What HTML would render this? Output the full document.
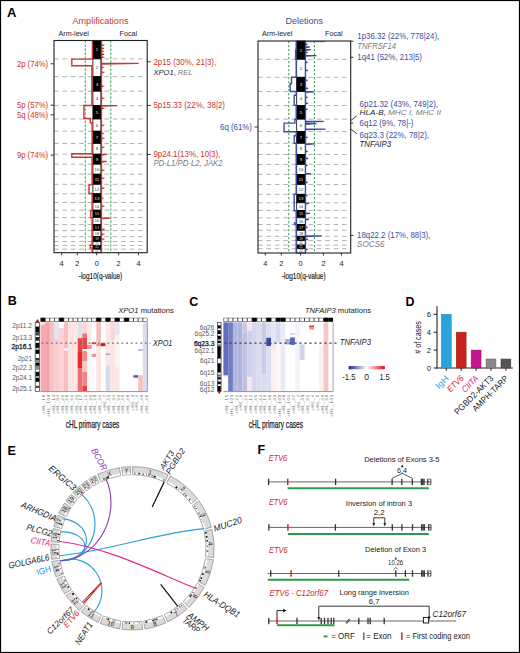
<!DOCTYPE html><html><head><meta charset="utf-8"><style>html,body{margin:0;padding:0;background:#fff;}svg{display:block;}text{font-family:"Liberation Sans", sans-serif;}</style></head><body>
<svg width="520" height="653" viewBox="0 0 520 653">
<rect x="0.00" y="0.00" width="520.00" height="653.00" fill="#fff" stroke="none" stroke-width="1"/>
<text x="7.00" y="17.00" font-size="13" fill="#000" font-weight="bold">A</text>
<text x="100.50" y="24.00" font-size="9.75" fill="#c9372c" text-anchor="middle" textLength="56.00" lengthAdjust="spacingAndGlyphs">Amplifications</text>
<text x="304.30" y="24.00" font-size="9.75" fill="#3c4ea0" text-anchor="middle" textLength="37.40" lengthAdjust="spacingAndGlyphs">Deletions</text>
<text x="58.50" y="35.60" font-size="7.63" fill="#222" textLength="30.30" lengthAdjust="spacingAndGlyphs">Arm-level</text>
<text x="119.60" y="35.60" font-size="7.63" fill="#222" textLength="17.40" lengthAdjust="spacingAndGlyphs">Focal</text>
<text x="262.00" y="35.60" font-size="7.63" fill="#222" textLength="30.30" lengthAdjust="spacingAndGlyphs">Arm-level</text>
<text x="325.00" y="35.60" font-size="7.63" fill="#222" textLength="17.60" lengthAdjust="spacingAndGlyphs">Focal</text>
<line x1="54.00" y1="58.90" x2="147.20" y2="58.90" stroke="#b3b3b3" stroke-width="1" stroke-dasharray="4.6 3.8"/>
<line x1="54.00" y1="76.70" x2="147.20" y2="76.70" stroke="#b3b3b3" stroke-width="1" stroke-dasharray="4.6 3.8"/>
<line x1="54.00" y1="91.20" x2="147.20" y2="91.20" stroke="#b3b3b3" stroke-width="1" stroke-dasharray="4.6 3.8"/>
<line x1="54.00" y1="105.60" x2="147.20" y2="105.60" stroke="#b3b3b3" stroke-width="1" stroke-dasharray="4.6 3.8"/>
<line x1="54.00" y1="119.00" x2="147.20" y2="119.00" stroke="#b3b3b3" stroke-width="1" stroke-dasharray="4.6 3.8"/>
<line x1="54.00" y1="131.20" x2="147.20" y2="131.20" stroke="#b3b3b3" stroke-width="1" stroke-dasharray="4.6 3.8"/>
<line x1="54.00" y1="143.50" x2="147.20" y2="143.50" stroke="#b3b3b3" stroke-width="1" stroke-dasharray="4.6 3.8"/>
<line x1="54.00" y1="154.20" x2="147.20" y2="154.20" stroke="#b3b3b3" stroke-width="1" stroke-dasharray="4.6 3.8"/>
<line x1="54.00" y1="164.20" x2="147.20" y2="164.20" stroke="#b3b3b3" stroke-width="1" stroke-dasharray="4.6 3.8"/>
<line x1="54.00" y1="174.20" x2="147.20" y2="174.20" stroke="#b3b3b3" stroke-width="1" stroke-dasharray="4.6 3.8"/>
<line x1="54.00" y1="184.30" x2="147.20" y2="184.30" stroke="#b3b3b3" stroke-width="1" stroke-dasharray="4.6 3.8"/>
<line x1="54.00" y1="193.80" x2="147.20" y2="193.80" stroke="#b3b3b3" stroke-width="1" stroke-dasharray="4.6 3.8"/>
<line x1="54.00" y1="202.50" x2="147.20" y2="202.50" stroke="#b3b3b3" stroke-width="1" stroke-dasharray="4.6 3.8"/>
<line x1="54.00" y1="210.20" x2="147.20" y2="210.20" stroke="#b3b3b3" stroke-width="1" stroke-dasharray="4.6 3.8"/>
<line x1="54.00" y1="217.50" x2="147.20" y2="217.50" stroke="#b3b3b3" stroke-width="1" stroke-dasharray="4.6 3.8"/>
<line x1="54.00" y1="224.60" x2="147.20" y2="224.60" stroke="#b3b3b3" stroke-width="1" stroke-dasharray="4.6 3.8"/>
<line x1="54.00" y1="230.60" x2="147.20" y2="230.60" stroke="#b3b3b3" stroke-width="1" stroke-dasharray="4.6 3.8"/>
<line x1="54.00" y1="236.70" x2="147.20" y2="236.70" stroke="#b3b3b3" stroke-width="1" stroke-dasharray="4.6 3.8"/>
<line x1="54.00" y1="241.50" x2="147.20" y2="241.50" stroke="#b3b3b3" stroke-width="1" stroke-dasharray="4.6 3.8"/>
<line x1="54.00" y1="245.40" x2="147.20" y2="245.40" stroke="#b3b3b3" stroke-width="1" stroke-dasharray="4.6 3.8"/>
<line x1="54.00" y1="249.20" x2="147.20" y2="249.20" stroke="#b3b3b3" stroke-width="1" stroke-dasharray="4.6 3.8"/>
<line x1="85.30" y1="40.50" x2="85.30" y2="252.70" stroke="#2f9a52" stroke-width="1" stroke-dasharray="2.3 1.7"/>
<line x1="110.80" y1="40.50" x2="110.80" y2="252.70" stroke="#2f9a52" stroke-width="1" stroke-dasharray="2.3 1.7"/>
<rect x="92.90" y="40.50" width="8.00" height="18.40" fill="#000" stroke="#000" stroke-width="0.8"/>
<text x="96.90" y="51.25" font-size="4.3" fill="#e8e8e8" text-anchor="middle">1</text>
<rect x="92.90" y="58.90" width="8.00" height="17.80" fill="#fff" stroke="#000" stroke-width="0.8"/>
<text x="96.90" y="69.35" font-size="4.3" fill="#333" text-anchor="middle">2</text>
<rect x="92.90" y="76.70" width="8.00" height="14.50" fill="#000" stroke="#000" stroke-width="0.8"/>
<text x="96.90" y="85.50" font-size="4.3" fill="#e8e8e8" text-anchor="middle">3</text>
<rect x="92.90" y="91.20" width="8.00" height="14.40" fill="#fff" stroke="#000" stroke-width="0.8"/>
<text x="96.90" y="99.95" font-size="4.3" fill="#333" text-anchor="middle">4</text>
<rect x="92.90" y="105.60" width="8.00" height="13.40" fill="#000" stroke="#000" stroke-width="0.8"/>
<text x="96.90" y="113.85" font-size="4.3" fill="#e8e8e8" text-anchor="middle">5</text>
<rect x="92.90" y="119.00" width="8.00" height="12.20" fill="#fff" stroke="#000" stroke-width="0.8"/>
<text x="96.90" y="126.65" font-size="4.3" fill="#333" text-anchor="middle">6</text>
<rect x="92.90" y="131.20" width="8.00" height="12.30" fill="#000" stroke="#000" stroke-width="0.8"/>
<text x="96.90" y="138.90" font-size="4.3" fill="#e8e8e8" text-anchor="middle">7</text>
<rect x="92.90" y="143.50" width="8.00" height="10.70" fill="#fff" stroke="#000" stroke-width="0.8"/>
<text x="96.90" y="150.40" font-size="4.3" fill="#333" text-anchor="middle">8</text>
<rect x="92.90" y="154.20" width="8.00" height="10.00" fill="#000" stroke="#000" stroke-width="0.8"/>
<text x="96.90" y="160.75" font-size="4.3" fill="#e8e8e8" text-anchor="middle">9</text>
<rect x="92.90" y="164.20" width="8.00" height="10.00" fill="#fff" stroke="#000" stroke-width="0.8"/>
<text x="96.90" y="170.75" font-size="4.3" fill="#333" text-anchor="middle">10</text>
<rect x="92.90" y="174.20" width="8.00" height="10.10" fill="#000" stroke="#000" stroke-width="0.8"/>
<text x="96.90" y="180.80" font-size="4.3" fill="#e8e8e8" text-anchor="middle">11</text>
<rect x="92.90" y="184.30" width="8.00" height="9.50" fill="#fff" stroke="#000" stroke-width="0.8"/>
<text x="96.90" y="190.60" font-size="4.3" fill="#333" text-anchor="middle">12</text>
<rect x="92.90" y="193.80" width="8.00" height="8.70" fill="#000" stroke="#000" stroke-width="0.8"/>
<text x="96.90" y="199.70" font-size="4.3" fill="#e8e8e8" text-anchor="middle">13</text>
<rect x="92.90" y="202.50" width="8.00" height="7.70" fill="#fff" stroke="#000" stroke-width="0.8"/>
<text x="96.90" y="207.72" font-size="3.8" fill="#333" text-anchor="middle">14</text>
<rect x="92.90" y="210.20" width="8.00" height="7.30" fill="#000" stroke="#000" stroke-width="0.8"/>
<text x="96.90" y="215.22" font-size="3.8" fill="#e8e8e8" text-anchor="middle">15</text>
<rect x="92.90" y="217.50" width="8.00" height="7.10" fill="#fff" stroke="#000" stroke-width="0.8"/>
<text x="96.90" y="222.42" font-size="3.8" fill="#333" text-anchor="middle">16</text>
<rect x="92.90" y="224.60" width="8.00" height="6.00" fill="#000" stroke="#000" stroke-width="0.8"/>
<text x="96.90" y="228.97" font-size="3.8" fill="#e8e8e8" text-anchor="middle">17</text>
<rect x="92.90" y="230.60" width="8.00" height="6.10" fill="#fff" stroke="#000" stroke-width="0.8"/>
<text x="96.90" y="235.02" font-size="3.8" fill="#333" text-anchor="middle">18</text>
<rect x="92.90" y="236.70" width="8.00" height="4.80" fill="#000" stroke="#000" stroke-width="0.8"/>
<text x="96.90" y="240.22" font-size="3.1" fill="#e8e8e8" text-anchor="middle">19</text>
<rect x="92.90" y="241.50" width="8.00" height="3.90" fill="#fff" stroke="#000" stroke-width="0.8"/>
<text x="96.90" y="244.57" font-size="3.1" fill="#333" text-anchor="middle">20</text>
<rect x="92.90" y="245.40" width="8.00" height="3.80" fill="#000" stroke="#000" stroke-width="0.8"/>
<text x="96.90" y="248.42" font-size="3.1" fill="#e8e8e8" text-anchor="middle">21</text>
<rect x="92.90" y="249.20" width="8.00" height="3.50" fill="#fff" stroke="#000" stroke-width="0.8"/>
<text x="96.90" y="252.07" font-size="3.1" fill="#333" text-anchor="middle">22</text>
<path d="M92.4,40.5 V59.1 H71.8 V65.7 H91.9 V105.5 H83.9 V118.5 H90.3 V122.8 H92.1 V153.7 H71.8 V157.2 H92.1 V184.9 H89 V193.5 H92.1 V210.8 H90.8 V217.7 H92.1 V245 H90.3 V248 H92.1 V252.7" stroke="#c9372c" stroke-width="1.4" fill="none"/>
<path d="M101.5,40.5 V45 L103,45.3 L101.5,45.9 V48 L104,48.3 L101.5,48.9 V51 L103.5,51.3 L101.5,51.9 V54 L104,54.3 L101.5,54.9 V57 L103,57.3 L101.5,57.9 V63.1 L138.7,63.4 L101.5,64.0 V67 L103.5,67.3 L101.5,67.9 V72 L103,72.3 L101.5,72.9 V86 L102.8,86.3 L101.5,86.9 V98 L103,98.3 L101.5,98.9 V105.3 L117.1,105.6 L101.5,106.2 V108 L103,108.3 L101.5,108.9 V125 L103,125.3 L101.5,125.9 V133 L103.5,133.3 L101.5,133.9 V138 L103,138.3 L101.5,138.9 V147 L103,147.3 L101.5,147.9 V154.1 L106.7,154.4 L101.5,155.0 V161.1 L106.7,161.4 L101.5,162.0 V170 L103,170.3 L101.5,170.9 V178 L103,178.3 L101.5,178.9 V188 L103,188.3 L101.5,188.9 V198 L102.5,198.3 L101.5,198.9 V206 L103,206.3 L101.5,206.9 V217.8 L110.2,218.10000000000002 L101.5,218.70000000000002 V229.2 L104.6,229.5 L101.5,230.1 V234 L103,234.3 L101.5,234.9 V239 L103,239.3 L101.5,239.9 V252.7" stroke="#c9372c" stroke-width="1.3" fill="none"/>
<rect x="54.00" y="40.50" width="93.20" height="212.20" fill="none" stroke="#222" stroke-width="1.1"/>
<line x1="61.60" y1="252.70" x2="61.60" y2="255.30" stroke="#222" stroke-width="0.9"/>
<text x="61.60" y="265.60" font-size="7.4" fill="#222" text-anchor="middle">4</text>
<line x1="77.30" y1="252.70" x2="77.30" y2="255.30" stroke="#222" stroke-width="0.9"/>
<text x="77.30" y="265.60" font-size="7.4" fill="#222" text-anchor="middle">2</text>
<line x1="96.70" y1="252.70" x2="96.70" y2="255.30" stroke="#222" stroke-width="0.9"/>
<text x="96.70" y="265.60" font-size="7.4" fill="#222" text-anchor="middle">0</text>
<line x1="118.60" y1="252.70" x2="118.60" y2="255.30" stroke="#222" stroke-width="0.9"/>
<text x="118.60" y="265.60" font-size="7.4" fill="#222" text-anchor="middle">2</text>
<line x1="138.50" y1="252.70" x2="138.50" y2="255.30" stroke="#222" stroke-width="0.9"/>
<text x="138.50" y="265.60" font-size="7.4" fill="#222" text-anchor="middle">4</text>
<line x1="258.00" y1="59.30" x2="350.70" y2="59.30" stroke="#b3b3b3" stroke-width="1" stroke-dasharray="4.6 3.8"/>
<line x1="258.00" y1="77.30" x2="350.70" y2="77.30" stroke="#b3b3b3" stroke-width="1" stroke-dasharray="4.6 3.8"/>
<line x1="258.00" y1="91.60" x2="350.70" y2="91.60" stroke="#b3b3b3" stroke-width="1" stroke-dasharray="4.6 3.8"/>
<line x1="258.00" y1="105.50" x2="350.70" y2="105.50" stroke="#b3b3b3" stroke-width="1" stroke-dasharray="4.6 3.8"/>
<line x1="258.00" y1="119.20" x2="350.70" y2="119.20" stroke="#b3b3b3" stroke-width="1" stroke-dasharray="4.6 3.8"/>
<line x1="258.00" y1="131.60" x2="350.70" y2="131.60" stroke="#b3b3b3" stroke-width="1" stroke-dasharray="4.6 3.8"/>
<line x1="258.00" y1="143.30" x2="350.70" y2="143.30" stroke="#b3b3b3" stroke-width="1" stroke-dasharray="4.6 3.8"/>
<line x1="258.00" y1="154.50" x2="350.70" y2="154.50" stroke="#b3b3b3" stroke-width="1" stroke-dasharray="4.6 3.8"/>
<line x1="258.00" y1="164.40" x2="350.70" y2="164.40" stroke="#b3b3b3" stroke-width="1" stroke-dasharray="4.6 3.8"/>
<line x1="258.00" y1="174.40" x2="350.70" y2="174.40" stroke="#b3b3b3" stroke-width="1" stroke-dasharray="4.6 3.8"/>
<line x1="258.00" y1="184.50" x2="350.70" y2="184.50" stroke="#b3b3b3" stroke-width="1" stroke-dasharray="4.6 3.8"/>
<line x1="258.00" y1="194.30" x2="350.70" y2="194.30" stroke="#b3b3b3" stroke-width="1" stroke-dasharray="4.6 3.8"/>
<line x1="258.00" y1="202.80" x2="350.70" y2="202.80" stroke="#b3b3b3" stroke-width="1" stroke-dasharray="4.6 3.8"/>
<line x1="258.00" y1="210.40" x2="350.70" y2="210.40" stroke="#b3b3b3" stroke-width="1" stroke-dasharray="4.6 3.8"/>
<line x1="258.00" y1="217.80" x2="350.70" y2="217.80" stroke="#b3b3b3" stroke-width="1" stroke-dasharray="4.6 3.8"/>
<line x1="258.00" y1="224.60" x2="350.70" y2="224.60" stroke="#b3b3b3" stroke-width="1" stroke-dasharray="4.6 3.8"/>
<line x1="258.00" y1="230.30" x2="350.70" y2="230.30" stroke="#b3b3b3" stroke-width="1" stroke-dasharray="4.6 3.8"/>
<line x1="258.00" y1="236.30" x2="350.70" y2="236.30" stroke="#b3b3b3" stroke-width="1" stroke-dasharray="4.6 3.8"/>
<line x1="258.00" y1="240.60" x2="350.70" y2="240.60" stroke="#b3b3b3" stroke-width="1" stroke-dasharray="4.6 3.8"/>
<line x1="258.00" y1="245.10" x2="350.70" y2="245.10" stroke="#b3b3b3" stroke-width="1" stroke-dasharray="4.6 3.8"/>
<line x1="258.00" y1="248.70" x2="350.70" y2="248.70" stroke="#b3b3b3" stroke-width="1" stroke-dasharray="4.6 3.8"/>
<line x1="288.80" y1="41.00" x2="288.80" y2="253.00" stroke="#2f9a52" stroke-width="1" stroke-dasharray="2.3 1.7"/>
<line x1="314.40" y1="41.00" x2="314.40" y2="253.00" stroke="#2f9a52" stroke-width="1" stroke-dasharray="2.3 1.7"/>
<rect x="296.70" y="41.00" width="8.60" height="18.30" fill="#000" stroke="#000" stroke-width="0.8"/>
<text x="301.00" y="51.70" font-size="4.3" fill="#e8e8e8" text-anchor="middle">1</text>
<rect x="296.70" y="59.30" width="8.60" height="18.00" fill="#fff" stroke="#000" stroke-width="0.8"/>
<text x="301.00" y="69.85" font-size="4.3" fill="#333" text-anchor="middle">2</text>
<rect x="296.70" y="77.30" width="8.60" height="14.30" fill="#000" stroke="#000" stroke-width="0.8"/>
<text x="301.00" y="86.00" font-size="4.3" fill="#e8e8e8" text-anchor="middle">3</text>
<rect x="296.70" y="91.60" width="8.60" height="13.90" fill="#fff" stroke="#000" stroke-width="0.8"/>
<text x="301.00" y="100.10" font-size="4.3" fill="#333" text-anchor="middle">4</text>
<rect x="296.70" y="105.50" width="8.60" height="13.70" fill="#000" stroke="#000" stroke-width="0.8"/>
<text x="301.00" y="113.90" font-size="4.3" fill="#e8e8e8" text-anchor="middle">5</text>
<rect x="296.70" y="119.20" width="8.60" height="12.40" fill="#fff" stroke="#000" stroke-width="0.8"/>
<text x="301.00" y="126.95" font-size="4.3" fill="#333" text-anchor="middle">6</text>
<rect x="296.70" y="131.60" width="8.60" height="11.70" fill="#000" stroke="#000" stroke-width="0.8"/>
<text x="301.00" y="139.00" font-size="4.3" fill="#e8e8e8" text-anchor="middle">7</text>
<rect x="296.70" y="143.30" width="8.60" height="11.20" fill="#fff" stroke="#000" stroke-width="0.8"/>
<text x="301.00" y="150.45" font-size="4.3" fill="#333" text-anchor="middle">8</text>
<rect x="296.70" y="154.50" width="8.60" height="9.90" fill="#000" stroke="#000" stroke-width="0.8"/>
<text x="301.00" y="161.00" font-size="4.3" fill="#e8e8e8" text-anchor="middle">9</text>
<rect x="296.70" y="164.40" width="8.60" height="10.00" fill="#fff" stroke="#000" stroke-width="0.8"/>
<text x="301.00" y="170.95" font-size="4.3" fill="#333" text-anchor="middle">10</text>
<rect x="296.70" y="174.40" width="8.60" height="10.10" fill="#000" stroke="#000" stroke-width="0.8"/>
<text x="301.00" y="181.00" font-size="4.3" fill="#e8e8e8" text-anchor="middle">11</text>
<rect x="296.70" y="184.50" width="8.60" height="9.80" fill="#fff" stroke="#000" stroke-width="0.8"/>
<text x="301.00" y="190.95" font-size="4.3" fill="#333" text-anchor="middle">12</text>
<rect x="296.70" y="194.30" width="8.60" height="8.50" fill="#000" stroke="#000" stroke-width="0.8"/>
<text x="301.00" y="200.10" font-size="4.3" fill="#e8e8e8" text-anchor="middle">13</text>
<rect x="296.70" y="202.80" width="8.60" height="7.60" fill="#fff" stroke="#000" stroke-width="0.8"/>
<text x="301.00" y="207.97" font-size="3.8" fill="#333" text-anchor="middle">14</text>
<rect x="296.70" y="210.40" width="8.60" height="7.40" fill="#000" stroke="#000" stroke-width="0.8"/>
<text x="301.00" y="215.47" font-size="3.8" fill="#e8e8e8" text-anchor="middle">15</text>
<rect x="296.70" y="217.80" width="8.60" height="6.80" fill="#fff" stroke="#000" stroke-width="0.8"/>
<text x="301.00" y="222.57" font-size="3.8" fill="#333" text-anchor="middle">16</text>
<rect x="296.70" y="224.60" width="8.60" height="5.70" fill="#000" stroke="#000" stroke-width="0.8"/>
<text x="301.00" y="228.82" font-size="3.8" fill="#e8e8e8" text-anchor="middle">17</text>
<rect x="296.70" y="230.30" width="8.60" height="6.00" fill="#fff" stroke="#000" stroke-width="0.8"/>
<text x="301.00" y="234.67" font-size="3.8" fill="#333" text-anchor="middle">18</text>
<rect x="296.70" y="236.30" width="8.60" height="4.30" fill="#000" stroke="#000" stroke-width="0.8"/>
<text x="301.00" y="239.57" font-size="3.1" fill="#e8e8e8" text-anchor="middle">19</text>
<rect x="296.70" y="240.60" width="8.60" height="4.50" fill="#fff" stroke="#000" stroke-width="0.8"/>
<text x="301.00" y="243.97" font-size="3.1" fill="#333" text-anchor="middle">20</text>
<rect x="296.70" y="245.10" width="8.60" height="3.60" fill="#000" stroke="#000" stroke-width="0.8"/>
<text x="301.00" y="248.02" font-size="3.1" fill="#e8e8e8" text-anchor="middle">21</text>
<rect x="296.70" y="248.70" width="8.60" height="4.30" fill="#fff" stroke="#000" stroke-width="0.8"/>
<text x="301.00" y="251.97" font-size="3.1" fill="#333" text-anchor="middle">22</text>
<path d="M296.2,41 V50 H295.6 V59 H296.2 V77.2 H291.5 V83.8 H290.2 V91.5 H296.2 V95.2 H294.2 V105.3 H296.2 V119.2 H294.9 V123.1 H284.1 V131.8 H296.2 V135.7 H294.2 V143.3 H296.2 V194.3 H294.2 V210.7 H296.2 V223 H294.5 V224.6 H296.2 V253" stroke="#3c4ea0" stroke-width="1.4" fill="none"/>
<path d="M305.5,41.5 V44 L307.5,44.3 L305.5,44.9 V46.7 L309.7,47.0 L305.5,47.6 V49.4 L311,49.699999999999996 L305.5,50.3 V52 L307.5,52.3 L305.5,52.9 V55.3 L316.4,55.599999999999994 L305.5,56.199999999999996 V62 L307.5,62.3 L305.5,62.9 V70 L308,70.3 L305.5,70.9 V80 L307.5,80.3 L305.5,80.9 V88 L308,88.3 L305.5,88.9 V91.5 L314.4,91.8 L305.5,92.4 V97 L307.5,97.3 L305.5,97.9 V103 L308,103.3 L305.5,103.9 V109 L307.5,109.3 L305.5,109.9 V121.1 L323.8,121.39999999999999 L305.5,122.0 V123.4 L316.4,123.7 L305.5,124.30000000000001 V128.8 L325.5,129.10000000000002 L305.5,129.70000000000002 V137 L307.5,137.3 L305.5,137.9 V143.6 L315,143.9 L305.5,144.5 V151 L307.5,151.3 L305.5,151.9 V158 L308,158.3 L305.5,158.9 V165 L307.5,165.3 L305.5,165.9 V173.4 L311,173.70000000000002 L305.5,174.3 V182 L307.5,182.3 L305.5,182.9 V195 L307.5,195.3 L305.5,195.9 V203 L309,203.3 L305.5,203.9 V213 L310,213.3 L305.5,213.9 V219 L309,219.3 L305.5,219.9 V227 L307.5,227.3 L305.5,227.9 V235.6 L321.8,235.9 L305.5,236.5 V239 L308,239.3 L305.5,239.9 V249 L307.5,249.3 L305.5,249.9 V253" stroke="#3c4ea0" stroke-width="1.3" fill="none"/>
<rect x="258.00" y="41.00" width="92.70" height="212.00" fill="none" stroke="#222" stroke-width="1.1"/>
<line x1="265.30" y1="253.00" x2="265.30" y2="255.60" stroke="#222" stroke-width="0.9"/>
<text x="265.30" y="265.60" font-size="7.4" fill="#222" text-anchor="middle">4</text>
<line x1="281.30" y1="253.00" x2="281.30" y2="255.60" stroke="#222" stroke-width="0.9"/>
<text x="281.30" y="265.60" font-size="7.4" fill="#222" text-anchor="middle">2</text>
<line x1="300.50" y1="253.00" x2="300.50" y2="255.60" stroke="#222" stroke-width="0.9"/>
<text x="300.50" y="265.60" font-size="7.4" fill="#222" text-anchor="middle">0</text>
<line x1="323.50" y1="253.00" x2="323.50" y2="255.60" stroke="#222" stroke-width="0.9"/>
<text x="323.50" y="265.60" font-size="7.4" fill="#222" text-anchor="middle">2</text>
<line x1="341.50" y1="253.00" x2="341.50" y2="255.60" stroke="#222" stroke-width="0.9"/>
<text x="341.50" y="265.60" font-size="7.4" fill="#222" text-anchor="middle">4</text>
<line x1="305.50" y1="41.60" x2="325.00" y2="41.60" stroke="#3c4ea0" stroke-width="1.1"/>
<text x="100.50" y="279.00" font-size="9.96" fill="#222" text-anchor="middle" textLength="43.50" lengthAdjust="spacingAndGlyphs" stroke="#222" stroke-width="0.2">-log10(q-value)</text>
<text x="303.80" y="278.80" font-size="9.96" fill="#222" text-anchor="middle" textLength="43.70" lengthAdjust="spacingAndGlyphs" stroke="#222" stroke-width="0.2">-log10(q-value)</text>
<line x1="50.50" y1="63.80" x2="54.00" y2="63.80" stroke="#222" stroke-width="0.9"/>
<text x="48.20" y="66.60" font-size="8.37" fill="#c9372c" text-anchor="end" textLength="31.30" lengthAdjust="spacingAndGlyphs">2p (74%)</text>
<line x1="50.50" y1="105.20" x2="54.00" y2="105.20" stroke="#222" stroke-width="0.9"/>
<text x="48.20" y="108.00" font-size="8.37" fill="#c9372c" text-anchor="end" textLength="31.30" lengthAdjust="spacingAndGlyphs">5p (57%)</text>
<line x1="50.50" y1="114.80" x2="54.00" y2="114.80" stroke="#222" stroke-width="0.9"/>
<text x="48.20" y="117.60" font-size="8.37" fill="#c9372c" text-anchor="end" textLength="31.30" lengthAdjust="spacingAndGlyphs">5q (48%)</text>
<line x1="50.50" y1="155.10" x2="54.00" y2="155.10" stroke="#222" stroke-width="0.9"/>
<text x="48.20" y="157.90" font-size="8.37" fill="#c9372c" text-anchor="end" textLength="31.30" lengthAdjust="spacingAndGlyphs">9p (74%)</text>
<line x1="147.20" y1="61.80" x2="150.80" y2="61.80" stroke="#222" stroke-width="0.9"/>
<line x1="147.20" y1="105.40" x2="150.80" y2="105.40" stroke="#222" stroke-width="0.9"/>
<line x1="147.20" y1="154.40" x2="150.80" y2="154.40" stroke="#222" stroke-width="0.9"/>
<text x="153.40" y="65.00" font-size="8.37" fill="#c9372c" textLength="62.80" lengthAdjust="spacingAndGlyphs">2p15 (30%, 21|3),</text>
<text x="153.4" y="75.0" font-size="7.9" font-style="italic" textLength="39.2" lengthAdjust="spacingAndGlyphs"><tspan fill="#222">XPO1</tspan><tspan fill="#222" font-style="normal">, </tspan><tspan fill="#7a7a7a">REL</tspan></text>
<text x="153.40" y="108.20" font-size="8.37" fill="#c9372c" textLength="71.60" lengthAdjust="spacingAndGlyphs">5p15.33 (22%, 38|2)</text>
<text x="153.40" y="157.30" font-size="8.37" fill="#c9372c" textLength="66.90" lengthAdjust="spacingAndGlyphs">9p24.1(13%, 10|3),</text>
<text x="153.40" y="166.30" font-size="8.37" fill="#7a7a7a" font-style="italic" textLength="69.20" lengthAdjust="spacingAndGlyphs">PD-L1/PD-L2, JAK2</text>
<line x1="254.50" y1="127.00" x2="258.00" y2="127.00" stroke="#222" stroke-width="0.9"/>
<text x="252.00" y="129.80" font-size="8.37" fill="#3c4ea0" text-anchor="end" textLength="32.00" lengthAdjust="spacingAndGlyphs">6q (61%)</text>
<line x1="350.70" y1="41.20" x2="353.50" y2="41.20" stroke="#222" stroke-width="0.9"/>
<line x1="350.70" y1="57.30" x2="353.50" y2="57.30" stroke="#222" stroke-width="0.9"/>
<text x="357.30" y="38.90" font-size="8.37" fill="#3c4ea0" textLength="82.00" lengthAdjust="spacingAndGlyphs">1p36.32 (22%, 778|24),</text>
<text x="357.30" y="48.60" font-size="8.37" fill="#7a7a7a" font-style="italic" textLength="38.70" lengthAdjust="spacingAndGlyphs">TNFRSF14</text>
<text x="357.30" y="59.70" font-size="8.37" fill="#3c4ea0" textLength="64.70" lengthAdjust="spacingAndGlyphs">1q41 (52%, 213|5)</text>
<text x="359.60" y="106.60" font-size="8.37" fill="#3c4ea0" textLength="78.40" lengthAdjust="spacingAndGlyphs">6p21.32 (43%, 749|2),</text>
<text x="359.6" y="115.1" font-size="7.9" font-style="italic" textLength="81.4" lengthAdjust="spacingAndGlyphs"><tspan fill="#222">HLA-B</tspan><tspan fill="#222" font-style="normal">, </tspan><tspan fill="#7a7a7a">MHC I, MHC II</tspan></text>
<text x="359.60" y="125.50" font-size="8.37" fill="#3c4ea0" textLength="53.80" lengthAdjust="spacingAndGlyphs">6q12 (9%, 78|-)</text>
<text x="359.60" y="138.20" font-size="8.37" fill="#3c4ea0" textLength="69.40" lengthAdjust="spacingAndGlyphs">6q23.3 (22%, 78|2),</text>
<text x="359.60" y="147.00" font-size="8.37" fill="#222" font-style="italic" textLength="31.40" lengthAdjust="spacingAndGlyphs">TNFAIP3</text>
<path d="M350.9,120.4 Q353.5,118.8 356.8,115.8" stroke="#222" stroke-width="0.9" fill="none"/>
<line x1="350.70" y1="123.00" x2="353.20" y2="123.00" stroke="#222" stroke-width="0.9"/>
<path d="M350.9,129.4 Q353.5,130.5 356.8,133.9" stroke="#222" stroke-width="0.9" fill="none"/>
<line x1="350.70" y1="235.50" x2="353.50" y2="235.50" stroke="#222" stroke-width="0.9"/>
<text x="357.00" y="237.60" font-size="8.37" fill="#3c4ea0" textLength="73.40" lengthAdjust="spacingAndGlyphs">18q22.2 (17%, 88|3),</text>
<text x="357.00" y="246.80" font-size="8.37" fill="#7a7a7a" font-style="italic" textLength="27.60" lengthAdjust="spacingAndGlyphs">SOCS6</text>
<text x="7.80" y="305.40" font-size="12.5" fill="#000" font-weight="bold">B</text>
<rect x="40.50" y="322.20" width="106.95" height="69.00" fill="#fff" stroke="none" stroke-width="1"/>
<rect x="40.48" y="324.50" width="4.69" height="66.70" fill="#f3abaf" stroke="none" stroke-width="1"/>
<rect x="40.48" y="322.20" width="4.69" height="2.30" fill="#fbe0e1" stroke="none" stroke-width="1"/>
<rect x="45.13" y="322.20" width="4.69" height="69.00" fill="#f1a3a8" stroke="none" stroke-width="1"/>
<rect x="49.78" y="322.20" width="4.69" height="69.00" fill="#f6c3c5" stroke="none" stroke-width="1"/>
<rect x="54.43" y="322.20" width="4.69" height="16.80" fill="#e3e4f3" stroke="none" stroke-width="1"/>
<rect x="54.43" y="339.00" width="4.69" height="52.20" fill="#f8cbcd" stroke="none" stroke-width="1"/>
<rect x="59.08" y="328.00" width="4.69" height="63.20" fill="#f9d3d5" stroke="none" stroke-width="1"/>
<rect x="63.73" y="322.20" width="4.69" height="69.00" fill="#f6c0c2" stroke="none" stroke-width="1"/>
<rect x="63.73" y="348.50" width="4.69" height="2.00" fill="#fff" stroke="none" stroke-width="1"/>
<rect x="68.38" y="322.20" width="4.69" height="69.00" fill="#fde2e2" stroke="none" stroke-width="1"/>
<rect x="73.03" y="322.20" width="4.69" height="69.00" fill="#fde7e7" stroke="none" stroke-width="1"/>
<rect x="77.68" y="322.20" width="4.69" height="16.00" fill="#e0e2f2" stroke="none" stroke-width="1"/>
<rect x="77.68" y="338.20" width="4.69" height="13.80" fill="#e94545" stroke="none" stroke-width="1"/>
<rect x="77.68" y="352.00" width="4.69" height="16.00" fill="#e92a2c" stroke="none" stroke-width="1"/>
<rect x="77.68" y="368.00" width="4.69" height="23.20" fill="#ed6e70" stroke="none" stroke-width="1"/>
<rect x="82.33" y="322.20" width="4.69" height="11.20" fill="#fbd6d6" stroke="none" stroke-width="1"/>
<rect x="82.33" y="333.40" width="4.69" height="4.60" fill="#ee7373" stroke="none" stroke-width="1"/>
<rect x="82.33" y="338.00" width="4.69" height="11.00" fill="#e84848" stroke="none" stroke-width="1"/>
<rect x="82.33" y="351.00" width="4.69" height="10.00" fill="#f08a8b" stroke="none" stroke-width="1"/>
<rect x="82.33" y="361.00" width="4.69" height="11.00" fill="#f8c6c7" stroke="none" stroke-width="1"/>
<rect x="82.33" y="372.00" width="4.69" height="14.00" fill="#ef8486" stroke="none" stroke-width="1"/>
<rect x="82.33" y="386.00" width="4.69" height="5.20" fill="#e64044" stroke="none" stroke-width="1"/>
<rect x="86.98" y="322.20" width="4.69" height="22.80" fill="#fdeaea" stroke="none" stroke-width="1"/>
<rect x="86.98" y="345.00" width="4.69" height="4.00" fill="#f29597" stroke="none" stroke-width="1"/>
<rect x="86.98" y="349.00" width="4.69" height="42.20" fill="#fef6f6" stroke="none" stroke-width="1"/>
<rect x="91.63" y="342.30" width="4.69" height="1.90" fill="#e83232" stroke="none" stroke-width="1"/>
<rect x="91.63" y="353.80" width="4.69" height="3.20" fill="#f29597" stroke="none" stroke-width="1"/>
<rect x="96.28" y="322.20" width="4.69" height="21.80" fill="#f7bdbd" stroke="none" stroke-width="1"/>
<rect x="96.28" y="344.00" width="4.69" height="2.50" fill="#f08a8a" stroke="none" stroke-width="1"/>
<rect x="96.28" y="346.50" width="4.69" height="44.70" fill="#fce4e4" stroke="none" stroke-width="1"/>
<rect x="100.93" y="343.00" width="4.69" height="3.20" fill="#e81414" stroke="none" stroke-width="1"/>
<rect x="105.58" y="322.20" width="4.69" height="43.20" fill="#fde6e6" stroke="none" stroke-width="1"/>
<rect x="105.58" y="353.60" width="4.69" height="1.20" fill="#8a96d4" stroke="none" stroke-width="1"/>
<rect x="105.58" y="365.40" width="4.69" height="25.80" fill="#d9d9ee" stroke="none" stroke-width="1"/>
<rect x="110.23" y="322.20" width="4.69" height="17.80" fill="#fbd8d8" stroke="none" stroke-width="1"/>
<rect x="110.23" y="340.00" width="4.69" height="51.20" fill="#fde3e3" stroke="none" stroke-width="1"/>
<rect x="114.88" y="322.20" width="4.69" height="12.80" fill="#e5e5f4" stroke="none" stroke-width="1"/>
<rect x="114.88" y="335.00" width="4.69" height="32.00" fill="#fef1f1" stroke="none" stroke-width="1"/>
<rect x="114.88" y="367.00" width="4.69" height="24.20" fill="#fde6e6" stroke="none" stroke-width="1"/>
<rect x="133.48" y="375.20" width="4.69" height="2.50" fill="#4a57ae" stroke="none" stroke-width="1"/>
<rect x="138.13" y="349.50" width="4.69" height="1.20" fill="#8a96d4" stroke="none" stroke-width="1"/>
<rect x="138.13" y="375.20" width="4.69" height="16.00" fill="#f6c2c2" stroke="none" stroke-width="1"/>
<rect x="142.78" y="322.20" width="4.69" height="69.00" fill="#dcdcf0" stroke="none" stroke-width="1"/>
<rect x="40.50" y="317.80" width="106.95" height="3.80" fill="#333" stroke="none" stroke-width="1"/>
<rect x="40.80" y="317.80" width="4.05" height="3.80" fill="#000" stroke="none" stroke-width="1"/>
<rect x="45.60" y="318.25" width="3.75" height="2.90" fill="#fff" stroke="none" stroke-width="1"/>
<rect x="50.25" y="318.25" width="3.75" height="2.90" fill="#fff" stroke="none" stroke-width="1"/>
<rect x="54.90" y="318.25" width="3.75" height="2.90" fill="#fff" stroke="none" stroke-width="1"/>
<rect x="59.40" y="317.80" width="4.05" height="3.80" fill="#000" stroke="none" stroke-width="1"/>
<rect x="64.20" y="318.25" width="3.75" height="2.90" fill="#fff" stroke="none" stroke-width="1"/>
<rect x="68.85" y="318.25" width="3.75" height="2.90" fill="#fff" stroke="none" stroke-width="1"/>
<rect x="73.50" y="318.25" width="3.75" height="2.90" fill="#fff" stroke="none" stroke-width="1"/>
<rect x="78.15" y="318.25" width="3.75" height="2.90" fill="#fff" stroke="none" stroke-width="1"/>
<rect x="82.80" y="318.25" width="3.75" height="2.90" fill="#fff" stroke="none" stroke-width="1"/>
<rect x="87.45" y="318.25" width="3.75" height="2.90" fill="#fff" stroke="none" stroke-width="1"/>
<rect x="92.10" y="318.25" width="3.75" height="2.90" fill="#fff" stroke="none" stroke-width="1"/>
<rect x="96.60" y="317.80" width="4.05" height="3.80" fill="#000" stroke="none" stroke-width="1"/>
<rect x="101.40" y="318.25" width="3.75" height="2.90" fill="#fff" stroke="none" stroke-width="1"/>
<rect x="105.90" y="317.80" width="4.05" height="3.80" fill="#000" stroke="none" stroke-width="1"/>
<rect x="110.70" y="318.25" width="3.75" height="2.90" fill="#fff" stroke="none" stroke-width="1"/>
<rect x="115.20" y="317.80" width="4.05" height="3.80" fill="#000" stroke="none" stroke-width="1"/>
<rect x="120.00" y="318.25" width="3.75" height="2.90" fill="#fff" stroke="none" stroke-width="1"/>
<rect x="124.50" y="317.80" width="4.05" height="3.80" fill="#000" stroke="none" stroke-width="1"/>
<rect x="129.30" y="318.25" width="3.75" height="2.90" fill="#fff" stroke="none" stroke-width="1"/>
<rect x="133.95" y="318.25" width="3.75" height="2.90" fill="#fff" stroke="none" stroke-width="1"/>
<rect x="138.60" y="318.25" width="3.75" height="2.90" fill="#fff" stroke="none" stroke-width="1"/>
<rect x="143.25" y="318.25" width="3.75" height="2.90" fill="#fff" stroke="none" stroke-width="1"/>
<line x1="40.50" y1="391.60" x2="147.45" y2="391.60" stroke="#888" stroke-width="0.9"/>
<line x1="147.45" y1="322.20" x2="147.45" y2="391.60" stroke="#999" stroke-width="0.9"/>
<line x1="41.50" y1="343.10" x2="150.50" y2="343.10" stroke="#777" stroke-width="1.2" stroke-dasharray="1.9 2.8"/>
<text x="118.2" y="312.7" font-size="7.9" fill="#222" textLength="55.6" lengthAdjust="spacingAndGlyphs"><tspan font-style="italic">XPO1</tspan> mutations</text>
<text x="153.00" y="345.90" font-size="8.37" fill="#222" font-style="italic" textLength="19.30" lengthAdjust="spacingAndGlyphs">XPO1</text>
<path d="M35.3,322.6 L37.45,318.9 L39.6,322.6 Z" fill="#c00000"/>
<rect x="35.20" y="322.60" width="4.40" height="68.70" fill="#fff" stroke="#333" stroke-width="0.7"/>
<rect x="35.55" y="326.60" width="3.70" height="5.50" fill="#000" stroke="none" stroke-width="1"/>
<rect x="35.55" y="332.10" width="3.70" height="3.40" fill="#444" stroke="none" stroke-width="1"/>
<rect x="35.55" y="337.00" width="3.70" height="3.70" fill="#222" stroke="none" stroke-width="1"/>
<rect x="35.55" y="342.90" width="3.70" height="4.90" fill="#000" stroke="none" stroke-width="1"/>
<rect x="35.55" y="348.00" width="3.70" height="1.50" fill="#aaa" stroke="none" stroke-width="1"/>
<rect x="35.55" y="349.80" width="3.70" height="4.00" fill="#000" stroke="none" stroke-width="1"/>
<rect x="35.55" y="358.00" width="3.70" height="2.40" fill="#333" stroke="none" stroke-width="1"/>
<rect x="35.55" y="360.40" width="3.70" height="2.60" fill="#888" stroke="none" stroke-width="1"/>
<rect x="35.55" y="363.00" width="3.70" height="2.80" fill="#000" stroke="none" stroke-width="1"/>
<rect x="35.55" y="365.80" width="3.70" height="3.90" fill="#888" stroke="none" stroke-width="1"/>
<rect x="35.55" y="371.80" width="3.70" height="4.60" fill="#111" stroke="none" stroke-width="1"/>
<rect x="35.55" y="377.70" width="3.70" height="4.10" fill="#000" stroke="none" stroke-width="1"/>
<rect x="35.55" y="385.80" width="3.70" height="2.20" fill="#444" stroke="none" stroke-width="1"/>
<text x="32.00" y="327.90" font-size="7.42" fill="#5a5a5a" text-anchor="end" textLength="19.80" lengthAdjust="spacingAndGlyphs">2p11.2</text>
<text x="32.00" y="340.10" font-size="7.42" fill="#5a5a5a" text-anchor="end" textLength="19.80" lengthAdjust="spacingAndGlyphs">2p13.3</text>
<text x="32.00" y="349.30" font-size="7.42" fill="#222" text-anchor="end" textLength="20.50" lengthAdjust="spacingAndGlyphs" stroke="#222" stroke-width="0.3">2p16.1</text>
<text x="32.00" y="361.10" font-size="7.42" fill="#5a5a5a" text-anchor="end" textLength="14.30" lengthAdjust="spacingAndGlyphs">2p21</text>
<text x="32.00" y="369.80" font-size="7.42" fill="#5a5a5a" text-anchor="end" textLength="19.80" lengthAdjust="spacingAndGlyphs">2p22.3</text>
<text x="32.00" y="379.90" font-size="7.42" fill="#5a5a5a" text-anchor="end" textLength="19.80" lengthAdjust="spacingAndGlyphs">2p24.1</text>
<text x="32.00" y="391.00" font-size="7.42" fill="#5a5a5a" text-anchor="end" textLength="19.80" lengthAdjust="spacingAndGlyphs">2p25.1</text>
<text x="45.23" y="394.9" font-size="4.3" fill="#666" text-anchor="end" textLength="18.60" lengthAdjust="spacing" transform="rotate(-90 45.23 394.9)">cHL_18</text>
<text x="49.88" y="394.9" font-size="4.3" fill="#666" text-anchor="end" textLength="21.70" lengthAdjust="spacing" transform="rotate(-90 49.88 394.9)">cHL_100</text>
<text x="54.52" y="394.9" font-size="4.3" fill="#666" text-anchor="end" textLength="18.60" lengthAdjust="spacing" transform="rotate(-90 54.52 394.9)">cHL_13</text>
<text x="59.18" y="394.9" font-size="4.3" fill="#666" text-anchor="end" textLength="18.60" lengthAdjust="spacing" transform="rotate(-90 59.18 394.9)">cHL_04</text>
<text x="63.82" y="394.9" font-size="4.3" fill="#666" text-anchor="end" textLength="18.60" lengthAdjust="spacing" transform="rotate(-90 63.82 394.9)">cHL_46</text>
<text x="68.48" y="394.9" font-size="4.3" fill="#666" text-anchor="end" textLength="18.60" lengthAdjust="spacing" transform="rotate(-90 68.48 394.9)">cHL_58</text>
<text x="73.12" y="394.9" font-size="4.3" fill="#666" text-anchor="end" textLength="18.60" lengthAdjust="spacing" transform="rotate(-90 73.12 394.9)">cHL_61</text>
<text x="77.78" y="394.9" font-size="4.3" fill="#666" text-anchor="end" textLength="18.60" lengthAdjust="spacing" transform="rotate(-90 77.78 394.9)">cHL_31</text>
<text x="82.43" y="394.9" font-size="4.3" fill="#666" text-anchor="end" textLength="18.60" lengthAdjust="spacing" transform="rotate(-90 82.43 394.9)">cHL_17</text>
<text x="87.08" y="394.9" font-size="4.3" fill="#666" text-anchor="end" textLength="18.60" lengthAdjust="spacing" transform="rotate(-90 87.08 394.9)">cHL_21</text>
<text x="91.73" y="394.9" font-size="4.3" fill="#666" text-anchor="end" textLength="18.60" lengthAdjust="spacing" transform="rotate(-90 91.73 394.9)">cHL_36</text>
<text x="96.38" y="394.9" font-size="4.3" fill="#666" text-anchor="end" textLength="18.60" lengthAdjust="spacing" transform="rotate(-90 96.38 394.9)">cHL_28</text>
<text x="101.03" y="394.9" font-size="4.3" fill="#666" text-anchor="end" textLength="18.60" lengthAdjust="spacing" transform="rotate(-90 101.03 394.9)">cHL_44</text>
<text x="105.68" y="394.9" font-size="4.3" fill="#666" text-anchor="end" textLength="15.50" lengthAdjust="spacing" transform="rotate(-90 105.68 394.9)">cHL_7</text>
<text x="110.33" y="394.9" font-size="4.3" fill="#666" text-anchor="end" textLength="18.60" lengthAdjust="spacing" transform="rotate(-90 110.33 394.9)">cHL_43</text>
<text x="114.98" y="394.9" font-size="4.3" fill="#666" text-anchor="end" textLength="18.60" lengthAdjust="spacing" transform="rotate(-90 114.98 394.9)">cHL_34</text>
<text x="119.63" y="394.9" font-size="4.3" fill="#666" text-anchor="end" textLength="18.60" lengthAdjust="spacing" transform="rotate(-90 119.63 394.9)">cHL_50</text>
<text x="124.28" y="394.9" font-size="4.3" fill="#666" text-anchor="end" textLength="18.60" lengthAdjust="spacing" transform="rotate(-90 124.28 394.9)">cHL_45</text>
<text x="128.93" y="394.9" font-size="4.3" fill="#666" text-anchor="end" textLength="18.60" lengthAdjust="spacing" transform="rotate(-90 128.93 394.9)">cHL_48</text>
<text x="133.58" y="394.9" font-size="4.3" fill="#666" text-anchor="end" textLength="15.50" lengthAdjust="spacing" transform="rotate(-90 133.58 394.9)">cHL_3</text>
<text x="138.22" y="394.9" font-size="4.3" fill="#666" text-anchor="end" textLength="15.50" lengthAdjust="spacing" transform="rotate(-90 138.22 394.9)">cHL_4</text>
<text x="142.88" y="394.9" font-size="4.3" fill="#666" text-anchor="end" textLength="18.60" lengthAdjust="spacing" transform="rotate(-90 142.88 394.9)">cHL_40</text>
<text x="147.53" y="394.9" font-size="4.3" fill="#666" text-anchor="end" textLength="18.60" lengthAdjust="spacing" transform="rotate(-90 147.53 394.9)">cHL_48</text>
<text x="92.50" y="427.80" font-size="10.49" fill="#222" text-anchor="middle" textLength="53.60" lengthAdjust="spacingAndGlyphs" stroke="#222" stroke-width="0.25">cHL primary cases</text>
<text x="189.20" y="305.70" font-size="12.5" fill="#000" font-weight="bold">C</text>
<rect x="223.40" y="322.40" width="109.71" height="68.80" fill="#fff" stroke="none" stroke-width="1"/>
<rect x="223.38" y="322.40" width="4.81" height="53.10" fill="#606dbd" stroke="none" stroke-width="1"/>
<rect x="223.38" y="375.50" width="4.81" height="0.80" fill="#f6caca" stroke="none" stroke-width="1"/>
<rect x="228.15" y="322.40" width="4.81" height="68.80" fill="#737ec5" stroke="none" stroke-width="1"/>
<rect x="232.92" y="322.40" width="4.81" height="68.80" fill="#b3b7df" stroke="none" stroke-width="1"/>
<rect x="237.69" y="322.40" width="4.81" height="68.80" fill="#b1b5de" stroke="none" stroke-width="1"/>
<rect x="242.46" y="322.40" width="4.81" height="10.00" fill="#c6c9e7" stroke="none" stroke-width="1"/>
<rect x="242.46" y="332.40" width="4.81" height="58.80" fill="#bfc2e4" stroke="none" stroke-width="1"/>
<rect x="247.23" y="322.40" width="4.81" height="8.60" fill="#fde4e4" stroke="none" stroke-width="1"/>
<rect x="247.23" y="331.00" width="4.81" height="46.00" fill="#d0d2eb" stroke="none" stroke-width="1"/>
<rect x="247.23" y="377.00" width="4.81" height="14.20" fill="#fde6e6" stroke="none" stroke-width="1"/>
<rect x="252.00" y="322.40" width="4.81" height="68.80" fill="#d5d7ee" stroke="none" stroke-width="1"/>
<rect x="256.77" y="322.40" width="4.81" height="68.80" fill="#dadcf0" stroke="none" stroke-width="1"/>
<rect x="261.54" y="322.40" width="4.81" height="51.60" fill="#c9cce9" stroke="none" stroke-width="1"/>
<rect x="261.54" y="374.00" width="4.81" height="17.20" fill="#d9dbef" stroke="none" stroke-width="1"/>
<rect x="266.31" y="322.40" width="4.81" height="68.80" fill="#dcdef0" stroke="none" stroke-width="1"/>
<rect x="266.31" y="337.80" width="4.81" height="8.20" fill="#3a4aa8" stroke="none" stroke-width="1"/>
<rect x="271.08" y="322.40" width="4.81" height="22.60" fill="#e6e7f4" stroke="none" stroke-width="1"/>
<rect x="271.08" y="345.00" width="4.81" height="46.20" fill="#fdeeee" stroke="none" stroke-width="1"/>
<rect x="275.85" y="322.40" width="4.81" height="19.60" fill="#d8d9ee" stroke="none" stroke-width="1"/>
<rect x="275.85" y="342.00" width="4.81" height="49.20" fill="#fbf7fa" stroke="none" stroke-width="1"/>
<rect x="280.62" y="322.40" width="4.81" height="68.80" fill="#ebebf6" stroke="none" stroke-width="1"/>
<rect x="285.39" y="339.00" width="4.81" height="5.50" fill="#a8acd8" stroke="none" stroke-width="1"/>
<rect x="290.16" y="333.60" width="4.81" height="1.00" fill="#a8afdc" stroke="none" stroke-width="1"/>
<rect x="290.16" y="337.40" width="4.81" height="7.50" fill="#5766b6" stroke="none" stroke-width="1"/>
<rect x="294.93" y="322.40" width="4.81" height="68.80" fill="#f3f3fa" stroke="none" stroke-width="1"/>
<rect x="299.70" y="344.50" width="4.81" height="15.50" fill="#d0d2ea" stroke="none" stroke-width="1"/>
<rect x="309.24" y="325.50" width="4.81" height="2.00" fill="#e63333" stroke="none" stroke-width="1"/>
<rect x="309.24" y="327.50" width="4.81" height="2.10" fill="#f09494" stroke="none" stroke-width="1"/>
<rect x="318.78" y="345.00" width="4.81" height="46.20" fill="#fdf0f0" stroke="none" stroke-width="1"/>
<rect x="323.55" y="322.40" width="4.81" height="68.80" fill="#f8c6c6" stroke="none" stroke-width="1"/>
<rect x="223.40" y="317.80" width="109.71" height="3.80" fill="#333" stroke="none" stroke-width="1"/>
<rect x="223.85" y="318.25" width="3.87" height="2.90" fill="#fff" stroke="none" stroke-width="1"/>
<rect x="228.62" y="318.25" width="3.87" height="2.90" fill="#fff" stroke="none" stroke-width="1"/>
<rect x="233.39" y="318.25" width="3.87" height="2.90" fill="#fff" stroke="none" stroke-width="1"/>
<rect x="238.16" y="318.25" width="3.87" height="2.90" fill="#fff" stroke="none" stroke-width="1"/>
<rect x="242.93" y="318.25" width="3.87" height="2.90" fill="#fff" stroke="none" stroke-width="1"/>
<rect x="247.70" y="318.25" width="3.87" height="2.90" fill="#fff" stroke="none" stroke-width="1"/>
<rect x="252.32" y="317.80" width="4.17" height="3.80" fill="#000" stroke="none" stroke-width="1"/>
<rect x="257.24" y="318.25" width="3.87" height="2.90" fill="#fff" stroke="none" stroke-width="1"/>
<rect x="262.01" y="318.25" width="3.87" height="2.90" fill="#fff" stroke="none" stroke-width="1"/>
<rect x="266.63" y="317.80" width="4.17" height="3.80" fill="#000" stroke="none" stroke-width="1"/>
<rect x="271.55" y="318.25" width="3.87" height="2.90" fill="#fff" stroke="none" stroke-width="1"/>
<rect x="276.17" y="317.80" width="4.17" height="3.80" fill="#000" stroke="none" stroke-width="1"/>
<rect x="280.94" y="317.80" width="4.17" height="3.80" fill="#000" stroke="none" stroke-width="1"/>
<rect x="285.86" y="318.25" width="3.87" height="2.90" fill="#fff" stroke="none" stroke-width="1"/>
<rect x="290.63" y="318.25" width="3.87" height="2.90" fill="#fff" stroke="none" stroke-width="1"/>
<rect x="295.40" y="318.25" width="3.87" height="2.90" fill="#fff" stroke="none" stroke-width="1"/>
<rect x="300.17" y="318.25" width="3.87" height="2.90" fill="#fff" stroke="none" stroke-width="1"/>
<rect x="304.94" y="318.25" width="3.87" height="2.90" fill="#fff" stroke="none" stroke-width="1"/>
<rect x="309.71" y="318.25" width="3.87" height="2.90" fill="#fff" stroke="none" stroke-width="1"/>
<rect x="314.48" y="318.25" width="3.87" height="2.90" fill="#fff" stroke="none" stroke-width="1"/>
<rect x="319.25" y="318.25" width="3.87" height="2.90" fill="#fff" stroke="none" stroke-width="1"/>
<rect x="323.87" y="317.80" width="4.17" height="3.80" fill="#000" stroke="none" stroke-width="1"/>
<rect x="328.64" y="317.80" width="4.17" height="3.80" fill="#000" stroke="none" stroke-width="1"/>
<line x1="223.40" y1="391.60" x2="333.11" y2="391.60" stroke="#888" stroke-width="0.9"/>
<line x1="333.11" y1="322.40" x2="333.11" y2="391.60" stroke="#999" stroke-width="0.9"/>
<line x1="224.40" y1="343.10" x2="337.00" y2="343.10" stroke="#444" stroke-width="1.1" stroke-dasharray="2.2 2.8"/>
<text x="304.9" y="312.7" font-size="7.9" fill="#222" textLength="66.1" lengthAdjust="spacingAndGlyphs"><tspan font-style="italic">TNFAIP3</tspan> mutations</text>
<text x="339.70" y="344.60" font-size="8.37" fill="#222" font-style="italic" textLength="31.30" lengthAdjust="spacingAndGlyphs">TNFAIP3</text>
<rect x="217.40" y="322.30" width="3.70" height="68.80" fill="#fff" stroke="#333" stroke-width="0.7"/>
<rect x="217.75" y="325.40" width="3.00" height="3.00" fill="#000" stroke="none" stroke-width="1"/>
<rect x="217.75" y="330.30" width="3.00" height="3.70" fill="#000" stroke="none" stroke-width="1"/>
<rect x="217.75" y="335.80" width="3.00" height="3.60" fill="#000" stroke="none" stroke-width="1"/>
<rect x="217.75" y="340.70" width="3.00" height="2.40" fill="#000" stroke="none" stroke-width="1"/>
<rect x="217.75" y="344.30" width="3.00" height="1.90" fill="#777" stroke="none" stroke-width="1"/>
<rect x="217.75" y="346.20" width="3.00" height="12.40" fill="#000" stroke="none" stroke-width="1"/>
<rect x="217.75" y="363.30" width="3.00" height="9.20" fill="#000" stroke="none" stroke-width="1"/>
<rect x="217.75" y="374.40" width="3.00" height="1.90" fill="#666" stroke="none" stroke-width="1"/>
<rect x="217.75" y="376.80" width="3.00" height="2.80" fill="#222" stroke="none" stroke-width="1"/>
<rect x="217.75" y="381.50" width="3.00" height="2.70" fill="#000" stroke="none" stroke-width="1"/>
<rect x="217.75" y="386.00" width="3.00" height="5.10" fill="#000" stroke="none" stroke-width="1"/>
<path d="M217.4,391.1 L219.25,394.3 L221.1,391.1 Z" fill="#c00000"/>
<text x="214.40" y="330.10" font-size="7.42" fill="#5a5a5a" text-anchor="end" textLength="14.60" lengthAdjust="spacingAndGlyphs">6q26</text>
<text x="214.40" y="336.40" font-size="7.42" fill="#5a5a5a" text-anchor="end" textLength="19.80" lengthAdjust="spacingAndGlyphs">6q25.2</text>
<text x="214.40" y="345.60" font-size="7.42" fill="#222" text-anchor="end" textLength="20.50" lengthAdjust="spacingAndGlyphs" stroke="#222" stroke-width="0.3">6q23.3</text>
<text x="214.40" y="353.00" font-size="7.42" fill="#5a5a5a" text-anchor="end" textLength="19.80" lengthAdjust="spacingAndGlyphs">6q22.1</text>
<text x="214.40" y="363.10" font-size="7.42" fill="#5a5a5a" text-anchor="end" textLength="14.30" lengthAdjust="spacingAndGlyphs">6q21</text>
<text x="214.40" y="374.70" font-size="7.42" fill="#5a5a5a" text-anchor="end" textLength="14.60" lengthAdjust="spacingAndGlyphs">6q15</text>
<text x="214.40" y="386.10" font-size="7.42" fill="#5a5a5a" text-anchor="end" textLength="14.60" lengthAdjust="spacingAndGlyphs">6q13</text>
<text x="214.40" y="391.90" font-size="7.42" fill="#5a5a5a" text-anchor="end" textLength="14.60" lengthAdjust="spacingAndGlyphs">6q12</text>
<text x="228.19" y="394.9" font-size="4.3" fill="#666" text-anchor="end" textLength="18.60" lengthAdjust="spacing" transform="rotate(-90 228.19 394.9)">cHL_15</text>
<text x="232.96" y="394.9" font-size="4.3" fill="#666" text-anchor="end" textLength="21.70" lengthAdjust="spacing" transform="rotate(-90 232.96 394.9)">cHL_103</text>
<text x="237.73" y="394.9" font-size="4.3" fill="#666" text-anchor="end" textLength="18.60" lengthAdjust="spacing" transform="rotate(-90 237.73 394.9)">cHL_24</text>
<text x="242.50" y="394.9" font-size="4.3" fill="#666" text-anchor="end" textLength="15.50" lengthAdjust="spacing" transform="rotate(-90 242.50 394.9)">cHL_6</text>
<text x="247.27" y="394.9" font-size="4.3" fill="#666" text-anchor="end" textLength="18.60" lengthAdjust="spacing" transform="rotate(-90 247.27 394.9)">cHL_21</text>
<text x="252.03" y="394.9" font-size="4.3" fill="#666" text-anchor="end" textLength="18.60" lengthAdjust="spacing" transform="rotate(-90 252.03 394.9)">cHL_12</text>
<text x="256.81" y="394.9" font-size="4.3" fill="#666" text-anchor="end" textLength="18.60" lengthAdjust="spacing" transform="rotate(-90 256.81 394.9)">cHL_45</text>
<text x="261.57" y="394.9" font-size="4.3" fill="#666" text-anchor="end" textLength="18.60" lengthAdjust="spacing" transform="rotate(-90 261.57 394.9)">cHL_44</text>
<text x="266.34" y="394.9" font-size="4.3" fill="#666" text-anchor="end" textLength="18.60" lengthAdjust="spacing" transform="rotate(-90 266.34 394.9)">cHL_16</text>
<text x="271.12" y="394.9" font-size="4.3" fill="#666" text-anchor="end" textLength="18.60" lengthAdjust="spacing" transform="rotate(-90 271.12 394.9)">cHL_38</text>
<text x="275.88" y="394.9" font-size="4.3" fill="#666" text-anchor="end" textLength="18.60" lengthAdjust="spacing" transform="rotate(-90 275.88 394.9)">cHL_43</text>
<text x="280.65" y="394.9" font-size="4.3" fill="#666" text-anchor="end" textLength="21.70" lengthAdjust="spacing" transform="rotate(-90 280.65 394.9)">cHL_100</text>
<text x="285.42" y="394.9" font-size="4.3" fill="#666" text-anchor="end" textLength="18.60" lengthAdjust="spacing" transform="rotate(-90 285.42 394.9)">cHL_48</text>
<text x="290.19" y="394.9" font-size="4.3" fill="#666" text-anchor="end" textLength="21.70" lengthAdjust="spacing" transform="rotate(-90 290.19 394.9)">cHL_104</text>
<text x="294.96" y="394.9" font-size="4.3" fill="#666" text-anchor="end" textLength="18.60" lengthAdjust="spacing" transform="rotate(-90 294.96 394.9)">cHL_47</text>
<text x="299.73" y="394.9" font-size="4.3" fill="#666" text-anchor="end" textLength="15.50" lengthAdjust="spacing" transform="rotate(-90 299.73 394.9)">cHL_7</text>
<text x="304.50" y="394.9" font-size="4.3" fill="#666" text-anchor="end" textLength="18.60" lengthAdjust="spacing" transform="rotate(-90 304.50 394.9)">cHL_49</text>
<text x="309.27" y="394.9" font-size="4.3" fill="#666" text-anchor="end" textLength="18.60" lengthAdjust="spacing" transform="rotate(-90 309.27 394.9)">cHL_61</text>
<text x="314.04" y="394.9" font-size="4.3" fill="#666" text-anchor="end" textLength="15.50" lengthAdjust="spacing" transform="rotate(-90 314.04 394.9)">cHL_4</text>
<text x="318.81" y="394.9" font-size="4.3" fill="#666" text-anchor="end" textLength="15.50" lengthAdjust="spacing" transform="rotate(-90 318.81 394.9)">cHL_5</text>
<text x="323.58" y="394.9" font-size="4.3" fill="#666" text-anchor="end" textLength="18.60" lengthAdjust="spacing" transform="rotate(-90 323.58 394.9)">cHL_40</text>
<text x="328.35" y="394.9" font-size="4.3" fill="#666" text-anchor="end" textLength="18.60" lengthAdjust="spacing" transform="rotate(-90 328.35 394.9)">cHL_68</text>
<text x="333.12" y="394.9" font-size="4.3" fill="#666" text-anchor="end" textLength="21.70" lengthAdjust="spacing" transform="rotate(-90 333.12 394.9)">cHL_103</text>
<text x="275.90" y="427.50" font-size="10.49" fill="#222" text-anchor="middle" textLength="54.30" lengthAdjust="spacingAndGlyphs" stroke="#222" stroke-width="0.25">cHL primary cases</text>
<defs><linearGradient id="lg" x1="0" x2="1" y1="0" y2="0"><stop offset="0" stop-color="#1b2a8f"/><stop offset="0.5" stop-color="#ffffff"/><stop offset="1" stop-color="#e3100f"/></linearGradient></defs>
<rect x="348.60" y="366.00" width="36.20" height="3.30" fill="url(#lg)" stroke="none" stroke-width="1"/>
<text x="348.90" y="379.80" font-size="8.59" fill="#222" text-anchor="middle" textLength="13.30" lengthAdjust="spacingAndGlyphs">-1.5</text>
<text x="366.70" y="379.80" font-size="8.6" fill="#222" text-anchor="middle">0</text>
<text x="384.60" y="379.80" font-size="8.59" fill="#222" text-anchor="middle" textLength="10.40" lengthAdjust="spacingAndGlyphs">1.5</text>
<text x="405.50" y="305.50" font-size="12.5" fill="#000" font-weight="bold">D</text>
<line x1="437.00" y1="306.20" x2="437.00" y2="368.40" stroke="#222" stroke-width="1.1"/>
<line x1="436.50" y1="368.00" x2="512.80" y2="368.00" stroke="#222" stroke-width="1.1"/>
<line x1="433.60" y1="368.00" x2="437.00" y2="368.00" stroke="#222" stroke-width="1"/>
<text x="428.80" y="370.70" font-size="7.6" fill="#222" text-anchor="middle">0</text>
<line x1="433.60" y1="350.10" x2="437.00" y2="350.10" stroke="#222" stroke-width="1"/>
<text x="428.80" y="352.80" font-size="7.6" fill="#222" text-anchor="middle">2</text>
<line x1="433.60" y1="332.20" x2="437.00" y2="332.20" stroke="#222" stroke-width="1"/>
<text x="428.80" y="334.90" font-size="7.6" fill="#222" text-anchor="middle">4</text>
<line x1="433.60" y1="314.30" x2="437.00" y2="314.30" stroke="#222" stroke-width="1"/>
<text x="428.80" y="317.00" font-size="7.6" fill="#222" text-anchor="middle">6</text>
<text x="421.40" y="337.50" font-size="8.27" fill="#222" text-anchor="middle" textLength="32.50" lengthAdjust="spacingAndGlyphs" transform="rotate(-90 421.40 337.50)"># of cases</text>
<rect x="441.40" y="314.30" width="9.80" height="53.70" fill="#29a3dd" stroke="#1e8cc0" stroke-width="0.6"/>
<line x1="446.30" y1="368.00" x2="446.30" y2="370.80" stroke="#222" stroke-width="1"/>
<rect x="456.30" y="332.20" width="9.80" height="35.80" fill="#c8241d" stroke="#a81c16" stroke-width="0.6"/>
<line x1="461.20" y1="368.00" x2="461.20" y2="370.80" stroke="#222" stroke-width="1"/>
<rect x="471.20" y="350.10" width="9.80" height="17.90" fill="#c0188a" stroke="#9e1070" stroke-width="0.6"/>
<line x1="476.10" y1="368.00" x2="476.10" y2="370.80" stroke="#222" stroke-width="1"/>
<rect x="486.10" y="359.05" width="9.80" height="8.95" fill="#888888" stroke="#666" stroke-width="0.6"/>
<line x1="491.00" y1="368.00" x2="491.00" y2="370.80" stroke="#222" stroke-width="1"/>
<rect x="501.00" y="359.05" width="9.80" height="8.95" fill="#555555" stroke="#444" stroke-width="0.6"/>
<line x1="505.90" y1="368.00" x2="505.90" y2="370.80" stroke="#222" stroke-width="1"/>
<text x="449.30" y="379.00" font-size="8.69" fill="#29a3dd" text-anchor="end" textLength="14.50" lengthAdjust="spacingAndGlyphs" transform="rotate(-45 449.30 379.00)">IgH</text>
<text x="464.20" y="379.00" font-size="8.69" fill="#d0281e" text-anchor="end" font-style="italic" textLength="19.30" lengthAdjust="spacingAndGlyphs" transform="rotate(-45 464.20 379.00)">ETV6</text>
<text x="479.10" y="379.00" font-size="8.69" fill="#c8188c" text-anchor="end" font-style="italic" textLength="19.80" lengthAdjust="spacingAndGlyphs" transform="rotate(-45 479.10 379.00)">CIITA</text>
<text x="494.00" y="379.00" font-size="8.69" fill="#222" text-anchor="end" textLength="51.30" lengthAdjust="spacingAndGlyphs" transform="rotate(-45 494.00 379.00)">PGBD2-AKT3</text>
<text x="508.90" y="379.00" font-size="8.69" fill="#222" text-anchor="end" textLength="46.80" lengthAdjust="spacingAndGlyphs" transform="rotate(-45 508.90 379.00)">AMPH-TARP</text>
<text x="7.50" y="454.50" font-size="12.5" fill="#000" font-weight="bold">E</text>
<path d="M132.64,466.60 A81.7,81.7 0 0 1 168.30,474.86 L164.75,482.14 A73.6,73.6 0 0 0 132.63,474.70 Z" stroke="#8a8a8a" stroke-width="0.7" fill="#dadada"/>
<path d="M133.03,472.50 A75.8,75.8 0 0 1 165.36,479.99 L164.67,481.43 A74.19999999999999,74.19999999999999 0 0 0 133.02,474.10 Z" stroke="none" stroke-width="0" fill="#ffffff"/>
<path d="M153.53,475.47 A75.8,75.8 0 0 1 155.01,475.92 L154.53,477.45 A74.19999999999999,74.19999999999999 0 0 0 153.08,477.01 Z" stroke="none" stroke-width="0" fill="#777"/>
<path d="M163.40,479.08 A75.8,75.8 0 0 1 164.80,479.73 L164.12,481.17 A74.19999999999999,74.19999999999999 0 0 0 162.75,480.55 Z" stroke="none" stroke-width="0" fill="#777"/>
<path d="M134.25,472.52 A75.8,75.8 0 0 1 135.46,472.56 L135.40,474.16 A74.19999999999999,74.19999999999999 0 0 0 134.21,474.12 Z" stroke="none" stroke-width="0" fill="#777"/>
<path d="M154.35,475.72 A75.8,75.8 0 0 1 156.00,476.24 L155.51,477.76 A74.19999999999999,74.19999999999999 0 0 0 153.89,477.25 Z" stroke="none" stroke-width="0" fill="#111"/>
<path d="M148.62,474.23 A75.8,75.8 0 0 1 149.55,474.44 L149.19,476.00 A74.19999999999999,74.19999999999999 0 0 0 148.28,475.80 Z" stroke="none" stroke-width="0" fill="#111"/>
<path d="M151.97,475.04 A75.8,75.8 0 0 1 152.63,475.22 L152.20,476.76 A74.19999999999999,74.19999999999999 0 0 0 151.56,476.59 Z" stroke="none" stroke-width="0" fill="#111"/>
<path d="M142.47,473.16 A75.8,75.8 0 0 1 144.20,473.41 L143.96,474.99 A74.19999999999999,74.19999999999999 0 0 0 142.26,474.74 Z" stroke="none" stroke-width="0" fill="#777"/>
<path d="M138.54,472.74 A75.8,75.8 0 0 1 140.15,472.89 L139.99,474.48 A74.19999999999999,74.19999999999999 0 0 0 138.42,474.34 Z" stroke="none" stroke-width="0" fill="#111"/>
<path d="M146.26,473.76 A75.8,75.8 0 0 1 147.04,473.91 L146.73,475.48 A74.19999999999999,74.19999999999999 0 0 0 145.97,475.33 Z" stroke="none" stroke-width="0" fill="#e05050"/>
<text x="150.20" y="471.92" font-size="6.2" fill="#111" text-anchor="middle" dominant-baseline="central" transform="rotate(13.0 150.20 471.92)">1</text>
<path d="M170.34,475.89 A81.7,81.7 0 0 1 197.63,498.97 L191.17,503.86 A73.6,73.6 0 0 0 166.59,483.07 Z" stroke="#8a8a8a" stroke-width="0.7" fill="#dadada"/>
<path d="M167.96,481.30 A75.8,75.8 0 0 1 192.68,502.22 L191.41,503.19 A74.19999999999999,74.19999999999999 0 0 0 167.21,482.72 Z" stroke="none" stroke-width="0" fill="#ffffff"/>
<path d="M184.27,492.93 A75.8,75.8 0 0 1 184.86,493.49 L183.75,494.64 A74.19999999999999,74.19999999999999 0 0 0 183.17,494.10 Z" stroke="none" stroke-width="0" fill="#111"/>
<path d="M189.91,498.81 A75.8,75.8 0 0 1 190.50,499.50 L189.28,500.53 A74.19999999999999,74.19999999999999 0 0 0 188.70,499.85 Z" stroke="none" stroke-width="0" fill="#111"/>
<path d="M176.10,486.29 A75.8,75.8 0 0 1 177.56,487.35 L176.61,488.64 A74.19999999999999,74.19999999999999 0 0 0 175.18,487.60 Z" stroke="none" stroke-width="0" fill="#111"/>
<path d="M185.67,494.27 A75.8,75.8 0 0 1 186.31,494.91 L185.17,496.04 A74.19999999999999,74.19999999999999 0 0 0 184.54,495.41 Z" stroke="none" stroke-width="0" fill="#777"/>
<path d="M185.96,494.56 A75.8,75.8 0 0 1 187.23,495.85 L186.07,496.96 A74.19999999999999,74.19999999999999 0 0 0 184.83,495.70 Z" stroke="none" stroke-width="0" fill="#777"/>
<path d="M176.35,486.47 A75.8,75.8 0 0 1 177.23,487.11 L176.29,488.40 A74.19999999999999,74.19999999999999 0 0 0 175.42,487.77 Z" stroke="none" stroke-width="0" fill="#111"/>
<path d="M178.85,488.32 A75.8,75.8 0 0 1 179.48,488.81 L178.48,490.07 A74.19999999999999,74.19999999999999 0 0 0 177.87,489.59 Z" stroke="none" stroke-width="0" fill="#e05050"/>
<text x="183.13" y="488.44" font-size="6.2" fill="#111" text-anchor="middle" dominant-baseline="central" transform="rotate(40.2 183.13 488.44)">2</text>
<path d="M198.98,500.81 A81.7,81.7 0 0 1 211.43,527.22 L203.61,529.31 A73.6,73.6 0 0 0 192.39,505.51 Z" stroke="#8a8a8a" stroke-width="0.7" fill="#dadada"/>
<path d="M194.41,504.56 A75.8,75.8 0 0 1 205.63,528.35 L204.09,528.78 A74.19999999999999,74.19999999999999 0 0 0 193.10,505.48 Z" stroke="none" stroke-width="0" fill="#ffffff"/>
<path d="M196.65,507.92 A75.8,75.8 0 0 1 197.04,508.55 L195.68,509.39 A74.19999999999999,74.19999999999999 0 0 0 195.29,508.77 Z" stroke="none" stroke-width="0" fill="#111"/>
<path d="M202.15,518.40 A75.8,75.8 0 0 1 202.41,519.02 L200.94,519.63 A74.19999999999999,74.19999999999999 0 0 0 200.68,519.03 Z" stroke="none" stroke-width="0" fill="#777"/>
<path d="M199.16,512.22 A75.8,75.8 0 0 1 199.65,513.13 L198.23,513.87 A74.19999999999999,74.19999999999999 0 0 0 197.75,512.98 Z" stroke="none" stroke-width="0" fill="#777"/>
<path d="M200.84,515.52 A75.8,75.8 0 0 1 201.29,516.45 L199.83,517.13 A74.19999999999999,74.19999999999999 0 0 0 199.40,516.21 Z" stroke="none" stroke-width="0" fill="#111"/>
<path d="M203.15,520.84 A75.8,75.8 0 0 1 203.41,521.52 L201.91,522.08 A74.19999999999999,74.19999999999999 0 0 0 201.66,521.42 Z" stroke="none" stroke-width="0" fill="#777"/>
<path d="M194.90,505.26 A75.8,75.8 0 0 1 195.77,506.55 L194.43,507.43 A74.19999999999999,74.19999999999999 0 0 0 193.58,506.17 Z" stroke="none" stroke-width="0" fill="#777"/>
<path d="M199.85,513.52 A75.8,75.8 0 0 1 200.21,514.23 L198.78,514.95 A74.19999999999999,74.19999999999999 0 0 0 198.43,514.26 Z" stroke="none" stroke-width="0" fill="#e05050"/>
<text x="203.41" y="514.86" font-size="6.2" fill="#111" text-anchor="middle" dominant-baseline="central" transform="rotate(64.8 203.41 514.86)">3</text>
<path d="M211.99,529.43 A81.7,81.7 0 0 1 213.67,557.55 L205.63,556.64 A73.6,73.6 0 0 0 204.11,531.30 Z" stroke="#8a8a8a" stroke-width="0.7" fill="#dadada"/>
<path d="M206.34,531.18 A75.8,75.8 0 0 1 207.86,556.49 L206.27,556.32 A74.19999999999999,74.19999999999999 0 0 0 204.78,531.54 Z" stroke="none" stroke-width="0" fill="#ffffff"/>
<path d="M206.50,531.87 A75.8,75.8 0 0 1 206.83,533.44 L205.26,533.75 A74.19999999999999,74.19999999999999 0 0 0 204.94,532.22 Z" stroke="none" stroke-width="0" fill="#111"/>
<path d="M208.26,545.73 A75.8,75.8 0 0 1 208.28,546.40 L206.68,546.44 A74.19999999999999,74.19999999999999 0 0 0 206.66,545.78 Z" stroke="none" stroke-width="0" fill="#111"/>
<path d="M207.27,535.86 A75.8,75.8 0 0 1 207.55,537.64 L205.96,537.87 A74.19999999999999,74.19999999999999 0 0 0 205.69,536.12 Z" stroke="none" stroke-width="0" fill="#111"/>
<path d="M208.28,550.15 A75.8,75.8 0 0 1 208.21,551.91 L206.62,551.84 A74.19999999999999,74.19999999999999 0 0 0 206.68,550.11 Z" stroke="none" stroke-width="0" fill="#777"/>
<path d="M207.83,539.90 A75.8,75.8 0 0 1 207.95,540.98 L206.35,541.13 A74.19999999999999,74.19999999999999 0 0 0 206.24,540.08 Z" stroke="none" stroke-width="0" fill="#111"/>
<path d="M208.26,550.64 A75.8,75.8 0 0 1 208.24,551.43 L206.64,551.37 A74.19999999999999,74.19999999999999 0 0 0 206.66,550.59 Z" stroke="none" stroke-width="0" fill="#777"/>
<path d="M207.96,541.15 A75.8,75.8 0 0 1 208.03,541.94 L206.44,542.08 A74.19999999999999,74.19999999999999 0 0 0 206.37,541.30 Z" stroke="none" stroke-width="0" fill="#e05050"/>
<text x="210.76" y="543.61" font-size="6.2" fill="#111" text-anchor="middle" dominant-baseline="central" transform="rotate(86.6 210.76 543.61)">4</text>
<path d="M213.38,559.82 A81.7,81.7 0 0 1 205.34,585.29 L198.12,581.63 A73.6,73.6 0 0 0 205.37,558.67 Z" stroke="#8a8a8a" stroke-width="0.7" fill="#dadada"/>
<path d="M207.49,559.38 A75.8,75.8 0 0 1 200.26,582.27 L198.83,581.55 A74.19999999999999,74.19999999999999 0 0 0 205.90,559.14 Z" stroke="none" stroke-width="0" fill="#ffffff"/>
<path d="M202.37,577.69 A75.8,75.8 0 0 1 201.70,579.23 L200.24,578.58 A74.19999999999999,74.19999999999999 0 0 0 200.90,577.07 Z" stroke="none" stroke-width="0" fill="#111"/>
<path d="M200.94,580.88 A75.8,75.8 0 0 1 200.61,581.58 L199.17,580.87 A74.19999999999999,74.19999999999999 0 0 0 199.50,580.19 Z" stroke="none" stroke-width="0" fill="#111"/>
<path d="M203.96,573.59 A75.8,75.8 0 0 1 203.35,575.24 L201.86,574.67 A74.19999999999999,74.19999999999999 0 0 0 202.45,573.05 Z" stroke="none" stroke-width="0" fill="#111"/>
<path d="M201.16,580.42 A75.8,75.8 0 0 1 200.59,581.60 L199.15,580.90 A74.19999999999999,74.19999999999999 0 0 0 199.71,579.74 Z" stroke="none" stroke-width="0" fill="#111"/>
<path d="M205.97,566.96 A75.8,75.8 0 0 1 205.75,567.80 L204.20,567.39 A74.19999999999999,74.19999999999999 0 0 0 204.42,566.56 Z" stroke="none" stroke-width="0" fill="#111"/>
<path d="M205.50,568.72 A75.8,75.8 0 0 1 205.28,569.49 L203.74,569.04 A74.19999999999999,74.19999999999999 0 0 0 203.96,568.29 Z" stroke="none" stroke-width="0" fill="#e05050"/>
<text x="207.27" y="571.89" font-size="6.2" fill="#111" text-anchor="middle" dominant-baseline="central" transform="rotate(-72.5 207.27 571.89)">5</text>
<path d="M204.28,587.31 A81.7,81.7 0 0 1 188.94,607.37 L183.35,601.51 A73.6,73.6 0 0 0 197.17,583.45 Z" stroke="#8a8a8a" stroke-width="0.7" fill="#dadada"/>
<path d="M198.91,584.84 A75.8,75.8 0 0 1 185.15,602.83 L184.04,601.68 A74.19999999999999,74.19999999999999 0 0 0 197.51,584.07 Z" stroke="none" stroke-width="0" fill="#ffffff"/>
<path d="M197.12,587.93 A75.8,75.8 0 0 1 196.33,589.19 L194.98,588.32 A74.19999999999999,74.19999999999999 0 0 0 195.75,587.09 Z" stroke="none" stroke-width="0" fill="#777"/>
<path d="M196.97,588.17 A75.8,75.8 0 0 1 196.59,588.78 L195.23,587.92 A74.19999999999999,74.19999999999999 0 0 0 195.61,587.33 Z" stroke="none" stroke-width="0" fill="#777"/>
<path d="M192.25,594.94 A75.8,75.8 0 0 1 191.54,595.84 L190.29,594.84 A74.19999999999999,74.19999999999999 0 0 0 190.99,593.96 Z" stroke="none" stroke-width="0" fill="#111"/>
<path d="M191.42,595.99 A75.8,75.8 0 0 1 190.37,597.26 L189.15,596.23 A74.19999999999999,74.19999999999999 0 0 0 190.17,594.99 Z" stroke="none" stroke-width="0" fill="#111"/>
<path d="M193.75,592.96 A75.8,75.8 0 0 1 193.31,593.55 L192.03,592.59 A74.19999999999999,74.19999999999999 0 0 0 192.45,592.02 Z" stroke="none" stroke-width="0" fill="#777"/>
<path d="M194.11,592.46 A75.8,75.8 0 0 1 193.64,593.11 L192.35,592.16 A74.19999999999999,74.19999999999999 0 0 0 192.81,591.53 Z" stroke="none" stroke-width="0" fill="#e05050"/>
<text x="194.77" y="595.93" font-size="6.2" fill="#111" text-anchor="middle" dominant-baseline="central" transform="rotate(-52.6 194.77 595.93)">6</text>
<path d="M187.27,608.92 A81.7,81.7 0 0 1 167.76,622.00 L164.26,614.69 A73.6,73.6 0 0 0 181.84,602.91 Z" stroke="#8a8a8a" stroke-width="0.7" fill="#dadada"/>
<path d="M183.02,604.81 A75.8,75.8 0 0 1 165.57,616.51 L164.87,615.07 A74.19999999999999,74.19999999999999 0 0 0 181.95,603.62 Z" stroke="none" stroke-width="0" fill="#ffffff"/>
<path d="M182.32,605.43 A75.8,75.8 0 0 1 181.37,606.24 L180.34,605.02 A74.19999999999999,74.19999999999999 0 0 0 181.27,604.22 Z" stroke="none" stroke-width="0" fill="#777"/>
<path d="M180.78,606.73 A75.8,75.8 0 0 1 179.59,607.70 L178.60,606.44 A74.19999999999999,74.19999999999999 0 0 0 179.77,605.50 Z" stroke="none" stroke-width="0" fill="#777"/>
<path d="M172.45,612.72 A75.8,75.8 0 0 1 171.08,613.55 L170.27,612.17 A74.19999999999999,74.19999999999999 0 0 0 171.61,611.36 Z" stroke="none" stroke-width="0" fill="#111"/>
<path d="M175.81,610.51 A75.8,75.8 0 0 1 175.12,610.98 L174.22,609.66 A74.19999999999999,74.19999999999999 0 0 0 174.90,609.19 Z" stroke="none" stroke-width="0" fill="#777"/>
<path d="M178.14,608.82 A75.8,75.8 0 0 1 177.17,609.54 L176.23,608.25 A74.19999999999999,74.19999999999999 0 0 0 177.17,607.55 Z" stroke="none" stroke-width="0" fill="#777"/>
<path d="M176.50,610.02 A75.8,75.8 0 0 1 175.85,610.48 L174.94,609.17 A74.19999999999999,74.19999999999999 0 0 0 175.57,608.72 Z" stroke="none" stroke-width="0" fill="#e05050"/>
<text x="176.15" y="613.43" font-size="6.2" fill="#111" text-anchor="middle" dominant-baseline="central" transform="rotate(-33.8 176.15 613.43)">7</text>
<path d="M165.68,622.96 A81.7,81.7 0 0 1 144.98,629.04 L143.74,621.04 A73.6,73.6 0 0 0 162.39,615.56 Z" stroke="#8a8a8a" stroke-width="0.7" fill="#dadada"/>
<path d="M162.92,617.73 A75.8,75.8 0 0 1 144.47,623.15 L144.21,621.57 A74.19999999999999,74.19999999999999 0 0 0 162.28,616.26 Z" stroke="none" stroke-width="0" fill="#ffffff"/>
<path d="M147.46,622.61 A75.8,75.8 0 0 1 145.66,622.95 L145.39,621.37 A74.19999999999999,74.19999999999999 0 0 0 147.14,621.04 Z" stroke="none" stroke-width="0" fill="#111"/>
<path d="M154.08,620.96 A75.8,75.8 0 0 1 152.61,621.38 L152.19,619.84 A74.19999999999999,74.19999999999999 0 0 0 153.63,619.43 Z" stroke="none" stroke-width="0" fill="#111"/>
<path d="M157.60,619.82 A75.8,75.8 0 0 1 156.52,620.19 L156.01,618.68 A74.19999999999999,74.19999999999999 0 0 0 157.07,618.31 Z" stroke="none" stroke-width="0" fill="#111"/>
<path d="M156.07,620.34 A75.8,75.8 0 0 1 154.32,620.89 L153.86,619.36 A74.19999999999999,74.19999999999999 0 0 0 155.57,618.82 Z" stroke="none" stroke-width="0" fill="#777"/>
<path d="M155.79,620.43 A75.8,75.8 0 0 1 155.03,620.67 L154.56,619.15 A74.19999999999999,74.19999999999999 0 0 0 155.30,618.91 Z" stroke="none" stroke-width="0" fill="#e05050"/>
<text x="154.60" y="623.52" font-size="6.2" fill="#111" text-anchor="middle" dominant-baseline="central" transform="rotate(-16.4 154.60 623.52)">8</text>
<path d="M142.72,629.36 A81.7,81.7 0 0 1 121.87,629.31 L122.92,621.27 A73.6,73.6 0 0 0 141.70,621.32 Z" stroke="#8a8a8a" stroke-width="0.7" fill="#dadada"/>
<path d="M141.59,623.55 A75.8,75.8 0 0 1 123.03,623.51 L123.23,621.92 A74.19999999999999,74.19999999999999 0 0 0 141.39,621.97 Z" stroke="none" stroke-width="0" fill="#ffffff"/>
<path d="M130.01,624.06 A75.8,75.8 0 0 1 128.76,624.01 L128.84,622.41 A74.19999999999999,74.19999999999999 0 0 0 130.06,622.46 Z" stroke="none" stroke-width="0" fill="#111"/>
<path d="M139.72,623.76 A75.8,75.8 0 0 1 138.74,623.84 L138.61,622.25 A74.19999999999999,74.19999999999999 0 0 0 139.57,622.16 Z" stroke="none" stroke-width="0" fill="#777"/>
<path d="M125.68,623.79 A75.8,75.8 0 0 1 124.59,623.69 L124.76,622.09 A74.19999999999999,74.19999999999999 0 0 0 125.82,622.20 Z" stroke="none" stroke-width="0" fill="#777"/>
<path d="M127.34,623.92 A75.8,75.8 0 0 1 125.86,623.81 L126.00,622.21 A74.19999999999999,74.19999999999999 0 0 0 127.45,622.33 Z" stroke="none" stroke-width="0" fill="#777"/>
<path d="M134.25,624.08 A75.8,75.8 0 0 1 133.45,624.09 L133.43,622.49 A74.19999999999999,74.19999999999999 0 0 0 134.21,622.48 Z" stroke="none" stroke-width="0" fill="#e05050"/>
<text x="132.30" y="626.70" font-size="6.2" fill="#111" text-anchor="middle" dominant-baseline="central" transform="rotate(0.1 132.30 626.70)">9</text>
<path d="M119.61,628.98 A81.7,81.7 0 0 1 100.29,623.38 L103.48,615.94 A73.6,73.6 0 0 0 120.89,620.98 Z" stroke="#8a8a8a" stroke-width="0.7" fill="#dadada"/>
<path d="M120.15,623.09 A75.8,75.8 0 0 1 102.98,618.12 L103.61,616.64 A74.19999999999999,74.19999999999999 0 0 0 120.41,621.51 Z" stroke="none" stroke-width="0" fill="#ffffff"/>
<path d="M107.12,619.73 A75.8,75.8 0 0 1 106.10,619.35 L106.65,617.85 A74.19999999999999,74.19999999999999 0 0 0 107.66,618.22 Z" stroke="none" stroke-width="0" fill="#777"/>
<path d="M115.10,622.08 A75.8,75.8 0 0 1 113.90,621.78 L114.29,620.23 A74.19999999999999,74.19999999999999 0 0 0 115.47,620.52 Z" stroke="none" stroke-width="0" fill="#777"/>
<path d="M108.25,620.12 A75.8,75.8 0 0 1 107.30,619.79 L107.83,618.28 A74.19999999999999,74.19999999999999 0 0 0 108.76,618.60 Z" stroke="none" stroke-width="0" fill="#777"/>
<path d="M108.93,620.34 A75.8,75.8 0 0 1 107.65,619.91 L108.18,618.40 A74.19999999999999,74.19999999999999 0 0 0 109.43,618.82 Z" stroke="none" stroke-width="0" fill="#111"/>
<path d="M113.22,621.61 A75.8,75.8 0 0 1 112.46,621.40 L112.88,619.86 A74.19999999999999,74.19999999999999 0 0 0 113.63,620.06 Z" stroke="none" stroke-width="0" fill="#e05050"/>
<text x="110.70" y="623.61" font-size="5.8" fill="#111" text-anchor="middle" dominant-baseline="central" transform="rotate(16.1 110.70 623.61)">10</text>
<path d="M98.21,622.45 A81.7,81.7 0 0 1 81.25,611.92 L86.33,605.62 A73.6,73.6 0 0 0 101.61,615.10 Z" stroke="#8a8a8a" stroke-width="0.7" fill="#dadada"/>
<path d="M100.32,616.93 A75.8,75.8 0 0 1 85.26,607.58 L86.25,606.33 A74.19999999999999,74.19999999999999 0 0 0 101.00,615.48 Z" stroke="none" stroke-width="0" fill="#ffffff"/>
<path d="M91.83,612.27 A75.8,75.8 0 0 1 91.02,611.75 L91.90,610.41 A74.19999999999999,74.19999999999999 0 0 0 92.69,610.92 Z" stroke="none" stroke-width="0" fill="#777"/>
<path d="M93.06,613.03 A75.8,75.8 0 0 1 91.67,612.17 L92.54,610.82 A74.19999999999999,74.19999999999999 0 0 0 93.89,611.67 Z" stroke="none" stroke-width="0" fill="#777"/>
<path d="M88.25,609.84 A75.8,75.8 0 0 1 87.38,609.21 L88.33,607.92 A74.19999999999999,74.19999999999999 0 0 0 89.18,608.54 Z" stroke="none" stroke-width="0" fill="#777"/>
<path d="M89.09,610.44 A75.8,75.8 0 0 1 87.75,609.48 L88.70,608.19 A74.19999999999999,74.19999999999999 0 0 0 90.01,609.13 Z" stroke="none" stroke-width="0" fill="#111"/>
<path d="M94.11,613.66 A75.8,75.8 0 0 1 93.42,613.25 L94.25,611.88 A74.19999999999999,74.19999999999999 0 0 0 94.92,612.28 Z" stroke="none" stroke-width="0" fill="#e05050"/>
<text x="91.14" y="614.91" font-size="5.8" fill="#111" text-anchor="middle" dominant-baseline="central" transform="rotate(31.8 91.14 614.91)">11</text>
<path d="M79.49,610.47 A81.7,81.7 0 0 1 66.08,595.87 L72.67,591.16 A73.6,73.6 0 0 0 84.74,604.30 Z" stroke="#8a8a8a" stroke-width="0.7" fill="#dadada"/>
<path d="M83.02,605.72 A75.8,75.8 0 0 1 71.11,592.76 L72.40,591.82 A74.19999999999999,74.19999999999999 0 0 0 84.06,604.51 Z" stroke="none" stroke-width="0" fill="#ffffff"/>
<path d="M72.89,595.12 A75.8,75.8 0 0 1 71.85,593.77 L73.13,592.81 A74.19999999999999,74.19999999999999 0 0 0 74.15,594.13 Z" stroke="none" stroke-width="0" fill="#777"/>
<path d="M76.48,599.36 A75.8,75.8 0 0 1 75.61,598.40 L76.81,597.34 A74.19999999999999,74.19999999999999 0 0 0 77.66,598.28 Z" stroke="none" stroke-width="0" fill="#111"/>
<path d="M72.95,595.20 A75.8,75.8 0 0 1 71.87,593.79 L73.15,592.83 A74.19999999999999,74.19999999999999 0 0 0 74.21,594.21 Z" stroke="none" stroke-width="0" fill="#111"/>
<path d="M77.95,600.93 A75.8,75.8 0 0 1 77.40,600.35 L78.56,599.26 A74.19999999999999,74.19999999999999 0 0 0 79.10,599.82 Z" stroke="none" stroke-width="0" fill="#e05050"/>
<text x="74.77" y="601.35" font-size="5.8" fill="#111" text-anchor="middle" dominant-baseline="central" transform="rotate(47.4 74.77 601.35)">12</text>
<path d="M64.78,594.00 A81.7,81.7 0 0 1 56.78,578.98 L64.29,575.94 A73.6,73.6 0 0 0 71.49,589.47 Z" stroke="#8a8a8a" stroke-width="0.7" fill="#dadada"/>
<path d="M69.45,590.37 A75.8,75.8 0 0 1 62.40,577.13 L63.88,576.52 A74.19999999999999,74.19999999999999 0 0 0 70.78,589.48 Z" stroke="none" stroke-width="0" fill="#ffffff"/>
<path d="M64.33,581.45 A75.8,75.8 0 0 1 63.68,580.08 L65.14,579.41 A74.19999999999999,74.19999999999999 0 0 0 65.77,580.75 Z" stroke="none" stroke-width="0" fill="#777"/>
<path d="M67.96,588.05 A75.8,75.8 0 0 1 67.14,586.69 L68.52,585.88 A74.19999999999999,74.19999999999999 0 0 0 69.32,587.21 Z" stroke="none" stroke-width="0" fill="#111"/>
<path d="M64.50,581.79 A75.8,75.8 0 0 1 63.99,580.74 L65.44,580.06 A74.19999999999999,74.19999999999999 0 0 0 65.93,581.08 Z" stroke="none" stroke-width="0" fill="#777"/>
<path d="M66.35,585.31 A75.8,75.8 0 0 1 65.97,584.62 L67.37,583.85 A74.19999999999999,74.19999999999999 0 0 0 67.75,584.53 Z" stroke="none" stroke-width="0" fill="#e05050"/>
<text x="63.30" y="585.15" font-size="5.8" fill="#111" text-anchor="middle" dominant-baseline="central" transform="rotate(62.0 63.30 585.15)">13</text>
<path d="M55.95,576.85 A81.7,81.7 0 0 1 51.88,561.54 L59.87,560.23 A73.6,73.6 0 0 0 63.54,574.02 Z" stroke="#8a8a8a" stroke-width="0.7" fill="#dadada"/>
<path d="M61.34,574.42 A75.8,75.8 0 0 1 57.77,560.98 L59.35,560.71 A74.19999999999999,74.19999999999999 0 0 0 62.84,573.87 Z" stroke="none" stroke-width="0" fill="#ffffff"/>
<path d="M58.39,564.20 A75.8,75.8 0 0 1 58.10,562.81 L59.67,562.51 A74.19999999999999,74.19999999999999 0 0 0 59.95,563.87 Z" stroke="none" stroke-width="0" fill="#777"/>
<path d="M61.13,573.82 A75.8,75.8 0 0 1 60.84,573.02 L62.36,572.50 A74.19999999999999,74.19999999999999 0 0 0 62.63,573.28 Z" stroke="none" stroke-width="0" fill="#111"/>
<path d="M58.76,565.83 A75.8,75.8 0 0 1 58.55,564.93 L60.11,564.58 A74.19999999999999,74.19999999999999 0 0 0 60.31,565.46 Z" stroke="none" stroke-width="0" fill="#777"/>
<path d="M59.64,569.20 A75.8,75.8 0 0 1 59.42,568.44 L60.97,568.01 A74.19999999999999,74.19999999999999 0 0 0 61.18,568.76 Z" stroke="none" stroke-width="0" fill="#e05050"/>
<text x="56.73" y="568.45" font-size="5.8" fill="#111" text-anchor="middle" dominant-baseline="central" transform="rotate(75.1 56.73 568.45)">14</text>
<path d="M51.54,559.29 A81.7,81.7 0 0 1 50.91,544.05 L59.00,544.47 A73.6,73.6 0 0 0 59.57,558.20 Z" stroke="#8a8a8a" stroke-width="0.7" fill="#dadada"/>
<path d="M57.34,558.10 A75.8,75.8 0 0 1 56.78,544.76 L58.38,544.83 A74.19999999999999,74.19999999999999 0 0 0 58.92,557.89 Z" stroke="none" stroke-width="0" fill="#ffffff"/>
<path d="M56.71,549.76 A75.8,75.8 0 0 1 56.70,549.05 L58.30,549.03 A74.19999999999999,74.19999999999999 0 0 0 58.31,549.73 Z" stroke="none" stroke-width="0" fill="#111"/>
<path d="M56.99,554.95 A75.8,75.8 0 0 1 56.93,554.23 L58.53,554.10 A74.19999999999999,74.19999999999999 0 0 0 58.59,554.81 Z" stroke="none" stroke-width="0" fill="#111"/>
<path d="M56.90,553.78 A75.8,75.8 0 0 1 56.84,552.91 L58.44,552.81 A74.19999999999999,74.19999999999999 0 0 0 58.49,553.67 Z" stroke="none" stroke-width="0" fill="#111"/>
<path d="M56.84,552.86 A75.8,75.8 0 0 1 56.79,552.06 L58.39,551.98 A74.19999999999999,74.19999999999999 0 0 0 58.43,552.76 Z" stroke="none" stroke-width="0" fill="#e05050"/>
<text x="54.17" y="551.55" font-size="5.8" fill="#111" text-anchor="middle" dominant-baseline="central" transform="rotate(87.6 54.17 551.55)">15</text>
<path d="M51.06,541.78 A81.7,81.7 0 0 1 53.21,528.62 L61.07,530.57 A73.6,73.6 0 0 0 59.14,542.42 Z" stroke="#8a8a8a" stroke-width="0.7" fill="#dadada"/>
<path d="M56.97,541.85 A75.8,75.8 0 0 1 58.84,530.43 L60.39,530.80 A74.19999999999999,74.19999999999999 0 0 0 58.57,541.99 Z" stroke="none" stroke-width="0" fill="#ffffff"/>
<path d="M57.03,541.20 A75.8,75.8 0 0 1 57.16,539.99 L58.75,540.16 A74.19999999999999,74.19999999999999 0 0 0 58.63,541.35 Z" stroke="none" stroke-width="0" fill="#111"/>
<path d="M57.90,534.89 A75.8,75.8 0 0 1 58.15,533.55 L59.72,533.86 A74.19999999999999,74.19999999999999 0 0 0 59.47,535.17 Z" stroke="none" stroke-width="0" fill="#111"/>
<path d="M57.50,537.33 A75.8,75.8 0 0 1 57.62,536.54 L59.20,536.79 A74.19999999999999,74.19999999999999 0 0 0 59.08,537.56 Z" stroke="none" stroke-width="0" fill="#e05050"/>
<text x="55.12" y="535.69" font-size="5.8" fill="#111" text-anchor="middle" dominant-baseline="central" transform="rotate(279.3 55.12 535.69)">16</text>
<path d="M53.79,526.41 A81.7,81.7 0 0 1 57.84,515.12 L65.24,518.41 A73.6,73.6 0 0 0 61.59,528.58 Z" stroke="#8a8a8a" stroke-width="0.7" fill="#dadada"/>
<path d="M59.58,527.61 A75.8,75.8 0 0 1 63.07,517.88 L64.54,518.52 A74.19999999999999,74.19999999999999 0 0 0 61.12,528.05 Z" stroke="none" stroke-width="0" fill="#ffffff"/>
<path d="M62.59,519.00 A75.8,75.8 0 0 1 62.85,518.39 L64.32,519.02 A74.19999999999999,74.19999999999999 0 0 0 64.07,519.62 Z" stroke="none" stroke-width="0" fill="#111"/>
<path d="M60.45,524.74 A75.8,75.8 0 0 1 60.82,523.65 L62.33,524.17 A74.19999999999999,74.19999999999999 0 0 0 61.97,525.24 Z" stroke="none" stroke-width="0" fill="#111"/>
<path d="M60.79,523.74 A75.8,75.8 0 0 1 61.05,522.99 L62.56,523.52 A74.19999999999999,74.19999999999999 0 0 0 62.30,524.26 Z" stroke="none" stroke-width="0" fill="#e05050"/>
<text x="58.71" y="521.81" font-size="5.8" fill="#111" text-anchor="middle" dominant-baseline="central" transform="rotate(289.7 58.71 521.81)">17</text>
<path d="M58.80,513.05 A81.7,81.7 0 0 1 64.51,503.00 L71.25,507.50 A73.6,73.6 0 0 0 66.10,516.54 Z" stroke="#8a8a8a" stroke-width="0.7" fill="#dadada"/>
<path d="M64.29,515.24 A75.8,75.8 0 0 1 69.20,506.61 L70.53,507.49 A74.19999999999999,74.19999999999999 0 0 0 65.73,515.94 Z" stroke="none" stroke-width="0" fill="#ffffff"/>
<path d="M68.20,508.16 A75.8,75.8 0 0 1 68.79,507.23 L70.14,508.10 A74.19999999999999,74.19999999999999 0 0 0 69.56,509.01 Z" stroke="none" stroke-width="0" fill="#111"/>
<path d="M67.14,509.92 A75.8,75.8 0 0 1 67.53,509.25 L68.90,510.08 A74.19999999999999,74.19999999999999 0 0 0 68.52,510.73 Z" stroke="none" stroke-width="0" fill="#111"/>
<path d="M66.08,511.78 A75.8,75.8 0 0 1 66.46,511.08 L67.86,511.87 A74.19999999999999,74.19999999999999 0 0 0 67.48,512.55 Z" stroke="none" stroke-width="0" fill="#e05050"/>
<text x="64.34" y="509.56" font-size="5.8" fill="#111" text-anchor="middle" dominant-baseline="central" transform="rotate(299.6 64.34 509.56)">18</text>
<path d="M65.80,501.12 A81.7,81.7 0 0 1 71.22,494.27 L77.30,499.62 A73.6,73.6 0 0 0 72.41,505.80 Z" stroke="#8a8a8a" stroke-width="0.7" fill="#dadada"/>
<path d="M70.84,504.21 A75.8,75.8 0 0 1 75.38,498.47 L76.59,499.52 A74.19999999999999,74.19999999999999 0 0 0 72.15,505.14 Z" stroke="none" stroke-width="0" fill="#ffffff"/>
<path d="M72.37,502.14 A75.8,75.8 0 0 1 73.21,501.08 L74.46,502.07 A74.19999999999999,74.19999999999999 0 0 0 73.64,503.12 Z" stroke="none" stroke-width="0" fill="#777"/>
<path d="M72.54,501.92 A75.8,75.8 0 0 1 73.03,501.30 L74.29,502.29 A74.19999999999999,74.19999999999999 0 0 0 73.81,502.90 Z" stroke="none" stroke-width="0" fill="#e05050"/>
<text x="71.01" y="499.67" font-size="5.8" fill="#111" text-anchor="middle" dominant-baseline="central" transform="rotate(308.3 71.01 499.67)">19</text>
<path d="M72.75,492.58 A81.7,81.7 0 0 1 79.50,486.12 L84.75,492.29 A73.6,73.6 0 0 0 78.68,498.10 Z" stroke="#8a8a8a" stroke-width="0.7" fill="#dadada"/>
<path d="M77.34,496.31 A75.8,75.8 0 0 1 83.03,490.87 L84.07,492.08 A74.19999999999999,74.19999999999999 0 0 0 78.50,497.41 Z" stroke="none" stroke-width="0" fill="#ffffff"/>
<path d="M81.83,491.93 A75.8,75.8 0 0 1 82.70,491.16 L83.75,492.36 A74.19999999999999,74.19999999999999 0 0 0 82.90,493.12 Z" stroke="none" stroke-width="0" fill="#777"/>
<path d="M80.87,492.80 A75.8,75.8 0 0 1 81.68,492.06 L82.76,493.24 A74.19999999999999,74.19999999999999 0 0 0 81.96,493.97 Z" stroke="none" stroke-width="0" fill="#111"/>
<path d="M79.49,494.12 A75.8,75.8 0 0 1 80.06,493.57 L81.17,494.72 A74.19999999999999,74.19999999999999 0 0 0 80.61,495.26 Z" stroke="none" stroke-width="0" fill="#e05050"/>
<text x="78.32" y="491.64" font-size="5.8" fill="#111" text-anchor="middle" dominant-baseline="central" transform="rotate(316.3 78.32 491.64)">20</text>
<path d="M81.26,484.67 A81.7,81.7 0 0 1 86.99,480.45 L91.50,487.18 A73.6,73.6 0 0 0 86.34,490.98 Z" stroke="#8a8a8a" stroke-width="0.7" fill="#dadada"/>
<path d="M85.27,489.02 A75.8,75.8 0 0 1 89.94,485.57 L90.84,486.90 A74.19999999999999,74.19999999999999 0 0 0 86.26,490.27 Z" stroke="none" stroke-width="0" fill="#ffffff"/>
<path d="M87.98,486.95 A75.8,75.8 0 0 1 89.07,486.18 L89.98,487.49 A74.19999999999999,74.19999999999999 0 0 0 88.92,488.25 Z" stroke="none" stroke-width="0" fill="#777"/>
<path d="M87.04,487.64 A75.8,75.8 0 0 1 87.68,487.17 L88.63,488.46 A74.19999999999999,74.19999999999999 0 0 0 88.00,488.92 Z" stroke="none" stroke-width="0" fill="#e05050"/>
<text x="86.03" y="485.16" font-size="5.8" fill="#111" text-anchor="middle" dominant-baseline="central" transform="rotate(323.7 86.03 485.16)">21</text>
<path d="M88.90,479.21 A81.7,81.7 0 0 1 95.47,475.47 L99.14,482.69 A73.6,73.6 0 0 0 93.22,486.06 Z" stroke="#8a8a8a" stroke-width="0.7" fill="#dadada"/>
<path d="M92.38,483.99 A75.8,75.8 0 0 1 97.79,480.91 L98.52,482.34 A74.19999999999999,74.19999999999999 0 0 0 93.23,485.34 Z" stroke="none" stroke-width="0" fill="#ffffff"/>
<path d="M94.45,482.74 A75.8,75.8 0 0 1 95.14,482.35 L95.93,483.74 A74.19999999999999,74.19999999999999 0 0 0 95.25,484.13 Z" stroke="none" stroke-width="0" fill="#e05050"/>
<text x="93.77" y="480.13" font-size="5.8" fill="#111" text-anchor="middle" dominant-baseline="central" transform="rotate(330.4 93.77 480.13)">22</text>
<path d="M97.52,474.47 A81.7,81.7 0 0 1 119.39,467.66 L120.69,475.65 A73.6,73.6 0 0 0 100.99,481.79 Z" stroke="#8a8a8a" stroke-width="0.7" fill="#dadada"/>
<path d="M100.40,479.63 A75.8,75.8 0 0 1 119.94,473.55 L120.21,475.13 A74.19999999999999,74.19999999999999 0 0 0 101.08,481.08 Z" stroke="none" stroke-width="0" fill="#ffffff"/>
<path d="M107.14,476.87 A75.8,75.8 0 0 1 108.78,476.31 L109.28,477.83 A74.19999999999999,74.19999999999999 0 0 0 107.68,478.37 Z" stroke="none" stroke-width="0" fill="#111"/>
<path d="M102.62,478.64 A75.8,75.8 0 0 1 103.85,478.12 L104.45,479.61 A74.19999999999999,74.19999999999999 0 0 0 103.25,480.11 Z" stroke="none" stroke-width="0" fill="#777"/>
<path d="M103.22,478.38 A75.8,75.8 0 0 1 104.53,477.85 L105.12,479.34 A74.19999999999999,74.19999999999999 0 0 0 103.84,479.86 Z" stroke="none" stroke-width="0" fill="#777"/>
<path d="M107.61,476.70 A75.8,75.8 0 0 1 108.72,476.33 L109.23,477.84 A74.19999999999999,74.19999999999999 0 0 0 108.14,478.21 Z" stroke="none" stroke-width="0" fill="#111"/>
<path d="M106.02,477.27 A75.8,75.8 0 0 1 107.74,476.66 L108.26,478.17 A74.19999999999999,74.19999999999999 0 0 0 106.58,478.77 Z" stroke="none" stroke-width="0" fill="#111"/>
<path d="M107.94,476.59 A75.8,75.8 0 0 1 108.69,476.34 L109.20,477.85 A74.19999999999999,74.19999999999999 0 0 0 108.46,478.10 Z" stroke="none" stroke-width="0" fill="#e05050"/>
<text x="109.20" y="473.44" font-size="6.2" fill="#111" text-anchor="middle" dominant-baseline="central" transform="rotate(342.7 109.20 473.44)">X</text>
<path d="M121.65,467.32 A81.7,81.7 0 0 1 130.36,466.63 L130.57,474.73 A73.6,73.6 0 0 0 122.72,475.35 Z" stroke="#8a8a8a" stroke-width="0.7" fill="#dadada"/>
<path d="M122.82,473.12 A75.8,75.8 0 0 1 130.12,472.54 L130.17,474.14 A74.19999999999999,74.19999999999999 0 0 0 123.03,474.71 Z" stroke="none" stroke-width="0" fill="#ffffff"/>
<path d="M125.66,472.81 A75.8,75.8 0 0 1 126.45,472.74 L126.57,474.34 A74.19999999999999,74.19999999999999 0 0 0 125.80,474.40 Z" stroke="none" stroke-width="0" fill="#e05050"/>
<text x="126.26" y="470.15" font-size="6.2" fill="#111" text-anchor="middle" dominant-baseline="central" transform="rotate(355.4 126.26 470.15)">Y</text>
<path d="M81.60,494.30 C106.31,516.10 95.42,559.58 60.50,560.70" stroke="#2a9fdc" stroke-width="1.1" fill="none"/>
<path d="M64.30,518.90 C96.55,524.58 92.17,561.25 60.50,560.70" stroke="#2a9fdc" stroke-width="1.1" fill="none"/>
<path d="M60.40,531.90 C90.95,530.67 94.97,560.52 60.50,560.70" stroke="#2a9fdc" stroke-width="1.1" fill="none"/>
<path d="M59.20,555.80 C108.15,551.10 154.83,533.32 203.90,528.60" stroke="#2a9fdc" stroke-width="1.1" fill="none"/>
<path d="M60.50,560.70 C91.76,551.03 114.58,586.99 94.20,611.60" stroke="#2a9fdc" stroke-width="1.1" fill="none"/>
<path d="M105.60,478.00 C121.60,512.20 100.29,559.03 60.50,560.70" stroke="#8c3fb0" stroke-width="1.1" fill="none"/>
<path d="M58.90,541.20 C106.68,547.26 151.31,570.16 195.60,588.30" stroke="#de2a8c" stroke-width="1.1" fill="none"/>
<line x1="164.19" y1="481.87" x2="152.22" y2="506.96" stroke="#111" stroke-width="1.2"/>
<line x1="177.81" y1="606.30" x2="160.70" y2="584.39" stroke="#111" stroke-width="1.2"/>
<line x1="84.02" y1="603.68" x2="101.59" y2="583.17" stroke="#d81c14" stroke-width="1.0"/>
<line x1="83.16" y1="602.91" x2="101.26" y2="582.88" stroke="#d81c14" stroke-width="1.0"/>
<line x1="82.30" y1="602.13" x2="100.93" y2="582.58" stroke="#d81c14" stroke-width="1.0"/>
<text x="99.38" y="459.38" font-size="8.9" fill="#8c3fb0" text-anchor="middle" dominant-baseline="central" font-style="italic" textLength="24.04" lengthAdjust="spacingAndGlyphs" transform="rotate(62.1 99.38 459.38)">BCOR</text>
<text x="62.50" y="477.88" font-size="8.9" fill="#222" text-anchor="middle" dominant-baseline="central" font-style="italic" textLength="33.14" lengthAdjust="spacingAndGlyphs" transform="rotate(41.0 62.50 477.88)">ERGIC3</text>
<text x="38.90" y="511.65" font-size="8.9" fill="#222" text-anchor="middle" dominant-baseline="central" font-style="italic" textLength="37.59" lengthAdjust="spacingAndGlyphs" transform="rotate(23.0 38.90 511.65)">ARHGDIA</text>
<text x="39.35" y="530.25" font-size="8.9" fill="#222" text-anchor="middle" dominant-baseline="central" font-style="italic" textLength="26.03" lengthAdjust="spacingAndGlyphs" transform="rotate(15.4 39.35 530.25)">PLCG2</text>
<text x="40.50" y="541.70" font-size="8.9" fill="#de2a8c" text-anchor="middle" dominant-baseline="central" font-style="italic" textLength="19.66" lengthAdjust="spacingAndGlyphs" transform="rotate(9.4 40.50 541.70)">CIITA</text>
<text x="29.00" y="561.40" font-size="8.9" fill="#222" text-anchor="middle" dominant-baseline="central" font-style="italic" textLength="41.50" lengthAdjust="spacingAndGlyphs" transform="rotate(-12.0 29.00 561.40)">GOLGA6L6</text>
<text x="43.85" y="570.50" font-size="8.9" fill="#2a9fdc" text-anchor="middle" dominant-baseline="central" textLength="14.96" lengthAdjust="spacingAndGlyphs" transform="rotate(-17.1 43.85 570.50)">IGH</text>
<text x="83.85" y="633.45" font-size="8.9" fill="#222" text-anchor="middle" dominant-baseline="central" font-style="italic" textLength="25.05" lengthAdjust="spacingAndGlyphs" transform="rotate(-57.4 83.85 633.45)">NEAT1</text>
<text x="60.50" y="620.80" font-size="8.2" fill="#222" text-anchor="middle" dominant-baseline="central" font-style="italic" textLength="34.50" lengthAdjust="spacingAndGlyphs" transform="rotate(-44.5 60.50 620.80)">C12orf67</text>
<text x="71.60" y="619.30" font-size="8.2" fill="#d0281e" text-anchor="middle" dominant-baseline="central" font-style="italic" textLength="19.50" lengthAdjust="spacingAndGlyphs" transform="rotate(-48.5 71.60 619.30)">ETV6</text>
<text x="167.20" y="460.30" font-size="8.0" fill="#222" text-anchor="middle" dominant-baseline="central" font-style="italic" textLength="20.50" lengthAdjust="spacingAndGlyphs" transform="rotate(-58.8 167.20 460.30)">AKT3</text>
<text x="175.60" y="461.40" font-size="8.0" fill="#222" text-anchor="middle" dominant-baseline="central" font-style="italic" textLength="28.80" lengthAdjust="spacingAndGlyphs" transform="rotate(-57.5 175.60 461.40)">PGBD2</text>
<text x="227.70" y="524.25" font-size="8.9" fill="#222" text-anchor="middle" dominant-baseline="central" font-style="italic" textLength="29.12" lengthAdjust="spacingAndGlyphs" transform="rotate(-18.6 227.70 524.25)">MUC20</text>
<text x="221.90" y="604.45" font-size="8.9" fill="#222" text-anchor="middle" dominant-baseline="central" font-style="italic" textLength="40.95" lengthAdjust="spacingAndGlyphs" transform="rotate(32.3 221.90 604.45)">HLA-DQB1</text>
<text x="198.30" y="621.70" font-size="8.9" fill="#222" text-anchor="middle" dominant-baseline="central" font-style="italic" textLength="24.68" lengthAdjust="spacingAndGlyphs" transform="rotate(37.4 198.30 621.70)">AMPH</text>
<text x="191.30" y="625.20" font-size="8.9" fill="#222" text-anchor="middle" dominant-baseline="central" font-style="italic" textLength="19.59" lengthAdjust="spacingAndGlyphs" transform="rotate(40.0 191.30 625.20)">TARP</text>
<text x="257.50" y="454.00" font-size="12.5" fill="#000" font-weight="bold">F</text>
<text x="268.80" y="461.40" font-size="8.27" fill="#d2281e" font-style="italic" textLength="18.40" lengthAdjust="spacingAndGlyphs">ETV6</text>
<text x="364.20" y="461.60" font-size="8.06" fill="#222" textLength="75.30" lengthAdjust="spacingAndGlyphs">Deletions of Exons 3-5</text>
<line x1="268.30" y1="481.90" x2="431.20" y2="481.90" stroke="#555" stroke-width="0.9"/>
<rect x="267.95" y="478.70" width="1.30" height="6.40" fill="#333" stroke="none" stroke-width="1"/>
<rect x="334.95" y="478.70" width="1.30" height="6.40" fill="#333" stroke="none" stroke-width="1"/>
<rect x="391.45" y="478.70" width="1.30" height="6.40" fill="#333" stroke="none" stroke-width="1"/>
<rect x="401.15" y="478.70" width="1.30" height="6.40" fill="#333" stroke="none" stroke-width="1"/>
<rect x="411.65" y="478.70" width="1.30" height="6.40" fill="#333" stroke="none" stroke-width="1"/>
<rect x="420.75" y="478.70" width="1.30" height="6.40" fill="#333" stroke="none" stroke-width="1"/>
<rect x="422.05" y="478.70" width="1.30" height="6.40" fill="#333" stroke="none" stroke-width="1"/>
<rect x="423.35" y="478.70" width="1.30" height="6.40" fill="#333" stroke="none" stroke-width="1"/>
<rect x="427.15" y="478.70" width="1.30" height="6.40" fill="#333" stroke="none" stroke-width="1"/>
<rect x="286.95" y="478.70" width="1.50" height="6.40" fill="#d2281e" stroke="none" stroke-width="1"/>
<line x1="287.70" y1="488.30" x2="428.90" y2="488.30" stroke="#2e9a47" stroke-width="1.9"/>
<path d="M429.3,479.2 H430.8 V484.6 H429.3" stroke="#333" stroke-width="0.9" fill="none"/>
<path d="M392.1,478.3 L402.3,473.4 L412.3,478.3" stroke="#333" stroke-width="0.8" fill="none"/>
<path d="M400.9,467.2 L402.3,464.6 L403.7,467.2 Z" fill="#222"/>
<text x="401.90" y="472.80" font-size="7.42" fill="#222" text-anchor="middle" textLength="10.00" lengthAdjust="spacingAndGlyphs">6,4</text>
<text x="268.90" y="505.40" font-size="8.27" fill="#d2281e" font-style="italic" textLength="18.40" lengthAdjust="spacingAndGlyphs">ETV6</text>
<text x="345.80" y="505.80" font-size="8.06" fill="#222" textLength="66.30" lengthAdjust="spacingAndGlyphs">Inversion of intron 3</text>
<line x1="268.60" y1="527.40" x2="431.20" y2="527.40" stroke="#555" stroke-width="0.9"/>
<rect x="268.25" y="524.20" width="1.30" height="6.40" fill="#333" stroke="none" stroke-width="1"/>
<rect x="334.75" y="524.20" width="1.30" height="6.40" fill="#333" stroke="none" stroke-width="1"/>
<rect x="391.65" y="524.20" width="1.30" height="6.40" fill="#333" stroke="none" stroke-width="1"/>
<rect x="401.25" y="524.20" width="1.30" height="6.40" fill="#333" stroke="none" stroke-width="1"/>
<rect x="411.85" y="524.20" width="1.30" height="6.40" fill="#333" stroke="none" stroke-width="1"/>
<rect x="421.05" y="524.20" width="1.30" height="6.40" fill="#333" stroke="none" stroke-width="1"/>
<rect x="422.35" y="524.20" width="1.30" height="6.40" fill="#333" stroke="none" stroke-width="1"/>
<rect x="423.65" y="524.20" width="1.30" height="6.40" fill="#333" stroke="none" stroke-width="1"/>
<rect x="428.15" y="524.20" width="1.30" height="6.40" fill="#333" stroke="none" stroke-width="1"/>
<rect x="287.15" y="524.20" width="1.50" height="6.40" fill="#d2281e" stroke="none" stroke-width="1"/>
<line x1="287.90" y1="534.00" x2="428.80" y2="534.00" stroke="#2e9a47" stroke-width="1.9"/>
<path d="M429.6,524.7 H431 V530.1 H429.6" stroke="#333" stroke-width="0.9" fill="none"/>
<path d="M373.8,523.5 V517.8 H384.8 V523.5" stroke="#222" stroke-width="0.9" fill="none"/>
<path d="M372.4,523 L373.8,526.6 L375.2,523 Z" fill="#222"/><path d="M383.4,523 L384.8,526.6 L386.2,523 Z" fill="#222"/>
<text x="379.20" y="515.30" font-size="7.42" fill="#222" text-anchor="middle" textLength="11.00" lengthAdjust="spacingAndGlyphs">2,2</text>
<text x="269.00" y="553.00" font-size="8.27" fill="#d2281e" font-style="italic" textLength="18.70" lengthAdjust="spacingAndGlyphs">ETV6</text>
<text x="365.00" y="552.30" font-size="8.06" fill="#222" textLength="61.20" lengthAdjust="spacingAndGlyphs">Deletion of Exon 3</text>
<line x1="267.80" y1="573.50" x2="431.20" y2="573.50" stroke="#555" stroke-width="0.9"/>
<rect x="270.05" y="570.30" width="1.30" height="6.40" fill="#333" stroke="none" stroke-width="1"/>
<rect x="338.05" y="570.30" width="1.30" height="6.40" fill="#333" stroke="none" stroke-width="1"/>
<rect x="395.15" y="570.30" width="1.30" height="6.40" fill="#333" stroke="none" stroke-width="1"/>
<rect x="404.75" y="570.30" width="1.30" height="6.40" fill="#333" stroke="none" stroke-width="1"/>
<rect x="411.85" y="570.30" width="1.30" height="6.40" fill="#333" stroke="none" stroke-width="1"/>
<rect x="421.05" y="570.30" width="1.30" height="6.40" fill="#333" stroke="none" stroke-width="1"/>
<rect x="422.35" y="570.30" width="1.30" height="6.40" fill="#333" stroke="none" stroke-width="1"/>
<rect x="423.65" y="570.30" width="1.30" height="6.40" fill="#333" stroke="none" stroke-width="1"/>
<rect x="427.35" y="570.30" width="1.30" height="6.40" fill="#333" stroke="none" stroke-width="1"/>
<rect x="290.35" y="570.30" width="1.50" height="6.40" fill="#d2281e" stroke="none" stroke-width="1"/>
<line x1="267.80" y1="579.70" x2="409.20" y2="579.70" stroke="#2e9a47" stroke-width="1.9"/>
<path d="M429.3,570.8 H430.8 V576.2 H429.3" stroke="#333" stroke-width="0.9" fill="none"/>
<path d="M394.6,559.4 L395.8,557.0 L397.0,559.4 Z" fill="#222"/>
<path d="M393.6,569.6 L395.8,567.4 L398,569.6" stroke="#333" stroke-width="0.7" fill="none"/>
<text x="395.60" y="565.40" font-size="7.0" fill="#222" text-anchor="middle" textLength="15.00" lengthAdjust="spacingAndGlyphs">10,26</text>
<text x="269.50" y="595.70" font-size="8.27" fill="#d2281e" font-style="italic" textLength="58.50" lengthAdjust="spacingAndGlyphs">ETV6 - C12orf67</text>
<text x="339.50" y="594.50" font-size="8.06" fill="#222" textLength="69.30" lengthAdjust="spacingAndGlyphs">Long range inversion</text>
<text x="374.10" y="603.90" font-size="7.42" fill="#222" text-anchor="middle" textLength="10.70" lengthAdjust="spacingAndGlyphs">6,7</text>
<line x1="268.00" y1="621.00" x2="456.20" y2="621.00" stroke="#555" stroke-width="0.9"/>
<rect x="268.15" y="617.80" width="1.30" height="6.40" fill="#333" stroke="none" stroke-width="1"/>
<rect x="296.35" y="617.80" width="1.30" height="6.40" fill="#333" stroke="none" stroke-width="1"/>
<rect x="320.55" y="617.80" width="1.30" height="6.40" fill="#333" stroke="none" stroke-width="1"/>
<rect x="323.85" y="617.80" width="1.30" height="6.40" fill="#333" stroke="none" stroke-width="1"/>
<rect x="327.35" y="617.80" width="1.30" height="6.40" fill="#333" stroke="none" stroke-width="1"/>
<rect x="330.55" y="617.80" width="1.30" height="6.40" fill="#333" stroke="none" stroke-width="1"/>
<rect x="333.15" y="617.80" width="1.30" height="6.40" fill="#333" stroke="none" stroke-width="1"/>
<rect x="358.15" y="617.80" width="1.30" height="6.40" fill="#333" stroke="none" stroke-width="1"/>
<rect x="367.35" y="617.80" width="1.30" height="6.40" fill="#333" stroke="none" stroke-width="1"/>
<rect x="369.55" y="617.80" width="1.30" height="6.40" fill="#333" stroke="none" stroke-width="1"/>
<rect x="383.55" y="617.80" width="1.30" height="6.40" fill="#333" stroke="none" stroke-width="1"/>
<rect x="276.25" y="617.80" width="1.50" height="6.40" fill="#d2281e" stroke="none" stroke-width="1"/>
<line x1="345.60" y1="623.20" x2="349.20" y2="618.80" stroke="#333" stroke-width="0.9"/>
<line x1="346.60" y1="623.60" x2="350.20" y2="619.20" stroke="#333" stroke-width="0.9"/>
<rect x="423.40" y="617.40" width="5.20" height="5.60" fill="#fff" stroke="#111" stroke-width="0.9"/>
<path d="M277,617.8 V610.6 H283.6" stroke="#111" stroke-width="0.9" fill="none"/>
<path d="M283.2,608.8 L286.4,610.6 L283.2,612.4 Z" fill="#111"/>
<path d="M318.8,618.0 V606.2 H429.2 V617.2" stroke="#222" stroke-width="0.9" fill="none"/>
<path d="M317.4,617.0 L318.8,620.4 L320.2,617.0 Z" fill="#111"/><path d="M427.8,616.6 L429.2,620.0 L430.6,616.6 Z" fill="#111"/>
<text x="432.60" y="616.60" font-size="8.37" fill="#222" font-style="italic" textLength="33.30" lengthAdjust="spacingAndGlyphs">C12orf67</text>
<line x1="277.00" y1="625.20" x2="334.50" y2="625.20" stroke="#2e9a47" stroke-width="1.9"/>
<line x1="323.60" y1="636.40" x2="327.60" y2="636.40" stroke="#2e9a47" stroke-width="1.9"/>
<text x="331.20" y="639.10" font-size="8.37" fill="#222" textLength="23.80" lengthAdjust="spacingAndGlyphs">= ORF</text>
<rect x="363.15" y="632.50" width="1.30" height="7.40" fill="#555" stroke="none" stroke-width="1"/>
<text x="366.30" y="639.10" font-size="8.37" fill="#222" textLength="25.20" lengthAdjust="spacingAndGlyphs">= Exon</text>
<rect x="401.15" y="632.50" width="1.50" height="7.40" fill="#d2281e" stroke="none" stroke-width="1"/>
<text x="405.90" y="639.10" font-size="8.37" fill="#222" textLength="64.10" lengthAdjust="spacingAndGlyphs">= First coding exon</text>
<rect x="0.50" y="0.50" width="519.00" height="652.00" fill="none" stroke="#000" stroke-width="1.2"/>
</svg></body></html>
